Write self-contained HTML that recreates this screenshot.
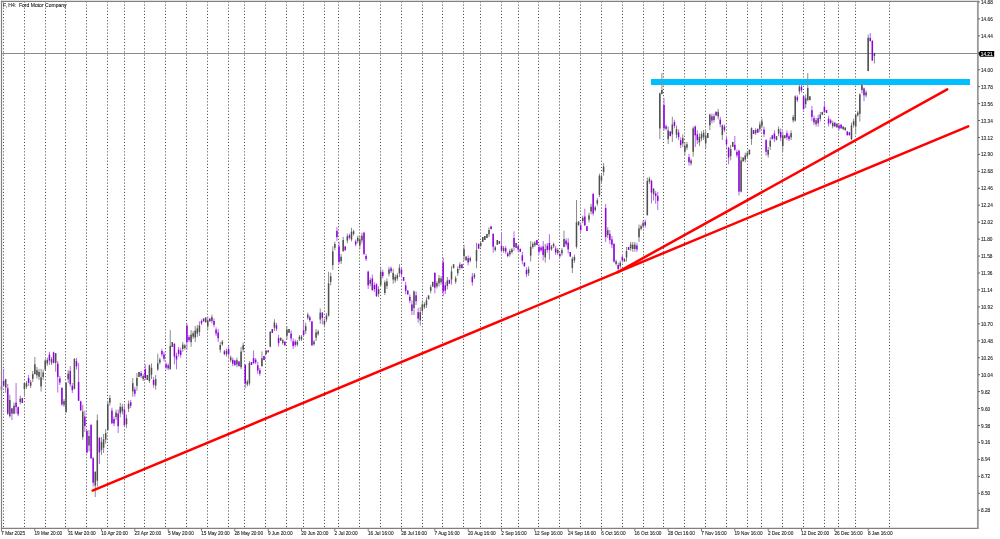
<!DOCTYPE html><html><head><meta charset="utf-8"><style>html,body{margin:0;padding:0;background:#fff;width:1000px;height:539px;overflow:hidden}svg{display:block;will-change:transform}text{font-family:"Liberation Sans",sans-serif}</style></head><body>
<svg width="1000" height="539" viewBox="0 0 1000 539">
<rect x="0" y="0" width="1000" height="539" fill="#ffffff"/>
<line x1="3.5" y1="1.4" x2="3.5" y2="528" stroke="#505050" stroke-width="1" stroke-dasharray="1.1 2.023"/>
<line x1="24.5" y1="1.4" x2="24.5" y2="528" stroke="#505050" stroke-width="1" stroke-dasharray="1.1 2.023"/>
<line x1="45.5" y1="1.4" x2="45.5" y2="528" stroke="#505050" stroke-width="1" stroke-dasharray="1.1 2.023"/>
<line x1="65.5" y1="1.4" x2="65.5" y2="528" stroke="#505050" stroke-width="1" stroke-dasharray="1.1 2.023"/>
<line x1="86.5" y1="1.4" x2="86.5" y2="528" stroke="#505050" stroke-width="1" stroke-dasharray="1.1 2.023"/>
<line x1="107.5" y1="1.4" x2="107.5" y2="528" stroke="#505050" stroke-width="1" stroke-dasharray="1.1 2.023"/>
<line x1="124.5" y1="1.4" x2="124.5" y2="528" stroke="#505050" stroke-width="1" stroke-dasharray="1.1 2.023"/>
<line x1="144.5" y1="1.4" x2="144.5" y2="528" stroke="#505050" stroke-width="1" stroke-dasharray="1.1 2.023"/>
<line x1="165.5" y1="1.4" x2="165.5" y2="528" stroke="#505050" stroke-width="1" stroke-dasharray="1.1 2.023"/>
<line x1="186.5" y1="1.4" x2="186.5" y2="528" stroke="#505050" stroke-width="1" stroke-dasharray="1.1 2.023"/>
<line x1="207.5" y1="1.4" x2="207.5" y2="528" stroke="#505050" stroke-width="1" stroke-dasharray="1.1 2.023"/>
<line x1="228.5" y1="1.4" x2="228.5" y2="528" stroke="#505050" stroke-width="1" stroke-dasharray="1.1 2.023"/>
<line x1="244.5" y1="1.4" x2="244.5" y2="528" stroke="#505050" stroke-width="1" stroke-dasharray="1.1 2.023"/>
<line x1="265.5" y1="1.4" x2="265.5" y2="528" stroke="#505050" stroke-width="1" stroke-dasharray="1.1 2.023"/>
<line x1="286.5" y1="1.4" x2="286.5" y2="528" stroke="#505050" stroke-width="1" stroke-dasharray="1.1 2.023"/>
<line x1="303.5" y1="1.4" x2="303.5" y2="528" stroke="#505050" stroke-width="1" stroke-dasharray="1.1 2.023"/>
<line x1="324.5" y1="1.4" x2="324.5" y2="528" stroke="#505050" stroke-width="1" stroke-dasharray="1.1 2.023"/>
<line x1="338.5" y1="1.4" x2="338.5" y2="528" stroke="#505050" stroke-width="1" stroke-dasharray="1.1 2.023"/>
<line x1="359.5" y1="1.4" x2="359.5" y2="528" stroke="#505050" stroke-width="1" stroke-dasharray="1.1 2.023"/>
<line x1="380.5" y1="1.4" x2="380.5" y2="528" stroke="#505050" stroke-width="1" stroke-dasharray="1.1 2.023"/>
<line x1="401.5" y1="1.4" x2="401.5" y2="528" stroke="#505050" stroke-width="1" stroke-dasharray="1.1 2.023"/>
<line x1="422.5" y1="1.4" x2="422.5" y2="528" stroke="#505050" stroke-width="1" stroke-dasharray="1.1 2.023"/>
<line x1="442.5" y1="1.4" x2="442.5" y2="528" stroke="#505050" stroke-width="1" stroke-dasharray="1.1 2.023"/>
<line x1="463.5" y1="1.4" x2="463.5" y2="528" stroke="#505050" stroke-width="1" stroke-dasharray="1.1 2.023"/>
<line x1="480.5" y1="1.4" x2="480.5" y2="528" stroke="#505050" stroke-width="1" stroke-dasharray="1.1 2.023"/>
<line x1="501.5" y1="1.4" x2="501.5" y2="528" stroke="#505050" stroke-width="1" stroke-dasharray="1.1 2.023"/>
<line x1="518.5" y1="1.4" x2="518.5" y2="528" stroke="#505050" stroke-width="1" stroke-dasharray="1.1 2.023"/>
<line x1="538.5" y1="1.4" x2="538.5" y2="528" stroke="#505050" stroke-width="1" stroke-dasharray="1.1 2.023"/>
<line x1="559.5" y1="1.4" x2="559.5" y2="528" stroke="#505050" stroke-width="1" stroke-dasharray="1.1 2.023"/>
<line x1="580.5" y1="1.4" x2="580.5" y2="528" stroke="#505050" stroke-width="1" stroke-dasharray="1.1 2.023"/>
<line x1="601.5" y1="1.4" x2="601.5" y2="528" stroke="#505050" stroke-width="1" stroke-dasharray="1.1 2.023"/>
<line x1="622.5" y1="1.4" x2="622.5" y2="528" stroke="#505050" stroke-width="1" stroke-dasharray="1.1 2.023"/>
<line x1="643.5" y1="1.4" x2="643.5" y2="528" stroke="#505050" stroke-width="1" stroke-dasharray="1.1 2.023"/>
<line x1="663.5" y1="1.4" x2="663.5" y2="528" stroke="#505050" stroke-width="1" stroke-dasharray="1.1 2.023"/>
<line x1="684.5" y1="1.4" x2="684.5" y2="528" stroke="#505050" stroke-width="1" stroke-dasharray="1.1 2.023"/>
<line x1="705.5" y1="1.4" x2="705.5" y2="528" stroke="#505050" stroke-width="1" stroke-dasharray="1.1 2.023"/>
<line x1="726.5" y1="1.4" x2="726.5" y2="528" stroke="#505050" stroke-width="1" stroke-dasharray="1.1 2.023"/>
<line x1="747.5" y1="1.4" x2="747.5" y2="528" stroke="#505050" stroke-width="1" stroke-dasharray="1.1 2.023"/>
<line x1="761.5" y1="1.4" x2="761.5" y2="528" stroke="#505050" stroke-width="1" stroke-dasharray="1.1 2.023"/>
<line x1="782.5" y1="1.4" x2="782.5" y2="528" stroke="#505050" stroke-width="1" stroke-dasharray="1.1 2.023"/>
<line x1="803.5" y1="1.4" x2="803.5" y2="528" stroke="#505050" stroke-width="1" stroke-dasharray="1.1 2.023"/>
<line x1="824.5" y1="1.4" x2="824.5" y2="528" stroke="#505050" stroke-width="1" stroke-dasharray="1.1 2.023"/>
<line x1="838.5" y1="1.4" x2="838.5" y2="528" stroke="#505050" stroke-width="1" stroke-dasharray="1.1 2.023"/>
<line x1="855.5" y1="1.4" x2="855.5" y2="528" stroke="#505050" stroke-width="1" stroke-dasharray="1.1 2.023"/>
<line x1="889.5" y1="1.4" x2="889.5" y2="528" stroke="#505050" stroke-width="1" stroke-dasharray="1.1 2.023"/>
<line x1="1" y1="53.5" x2="977.5" y2="53.5" stroke="#8a8a8a" stroke-width="1"/>
<rect x="651" y="79" width="319" height="6" fill="#00bfff"/>
<rect x="1.00" y="384.0" width="1" height="8.0" fill="#8c8c8c"/>
<rect x="0.75" y="386.2" width="1.5" height="3.5" fill="#4e4e4e"/>
<rect x="3.08" y="368.8" width="1" height="17.6" fill="#b768ee"/>
<rect x="2.83" y="381.0" width="1.5" height="4.7" fill="#9000dc"/>
<rect x="5.17" y="378.8" width="1" height="14.1" fill="#8c8c8c"/>
<rect x="4.92" y="379.2" width="1.5" height="8.5" fill="#4e4e4e"/>
<rect x="7.25" y="384.0" width="1" height="31.0" fill="#b768ee"/>
<rect x="7.00" y="388.3" width="1.5" height="25.3" fill="#9000dc"/>
<rect x="9.33" y="394.8" width="1" height="22.7" fill="#8c8c8c"/>
<rect x="9.08" y="400.0" width="1.5" height="16.2" fill="#4e4e4e"/>
<rect x="11.42" y="407.8" width="1" height="12.2" fill="#b768ee"/>
<rect x="11.17" y="408.4" width="1.5" height="5.2" fill="#9000dc"/>
<rect x="13.50" y="402.6" width="1" height="11.7" fill="#8c8c8c"/>
<rect x="13.25" y="405.8" width="1.5" height="7.8" fill="#4e4e4e"/>
<rect x="15.58" y="383.0" width="1" height="30.6" fill="#b768ee"/>
<rect x="15.33" y="402.6" width="1.5" height="4.5" fill="#9000dc"/>
<rect x="17.67" y="406.5" width="1" height="9.7" fill="#b768ee"/>
<rect x="17.42" y="407.1" width="1.5" height="7.2" fill="#9000dc"/>
<rect x="19.75" y="395.5" width="1" height="9.0" fill="#8c8c8c"/>
<rect x="19.50" y="398.7" width="1.5" height="3.3" fill="#4e4e4e"/>
<rect x="21.83" y="398.0" width="1" height="5.0" fill="#b768ee"/>
<rect x="21.58" y="398.0" width="1.5" height="5.0" fill="#9000dc"/>
<rect x="23.92" y="382.5" width="1" height="14.3" fill="#8c8c8c"/>
<rect x="23.67" y="383.1" width="1.5" height="5.9" fill="#4e4e4e"/>
<rect x="26.00" y="381.0" width="1" height="8.0" fill="#8c8c8c"/>
<rect x="25.75" y="383.2" width="1.5" height="3.5" fill="#4e4e4e"/>
<rect x="28.08" y="375.0" width="1" height="11.0" fill="#b768ee"/>
<rect x="27.83" y="378.1" width="1.5" height="4.8" fill="#9000dc"/>
<rect x="30.17" y="380.0" width="1" height="8.0" fill="#8c8c8c"/>
<rect x="29.92" y="382.2" width="1.5" height="3.5" fill="#4e4e4e"/>
<rect x="32.25" y="371.0" width="1" height="11.0" fill="#8c8c8c"/>
<rect x="32.00" y="374.1" width="1.5" height="4.8" fill="#4e4e4e"/>
<rect x="34.33" y="357.0" width="1" height="17.7" fill="#8c8c8c"/>
<rect x="34.08" y="364.3" width="1.5" height="9.7" fill="#4e4e4e"/>
<rect x="36.42" y="367.0" width="1" height="11.6" fill="#8c8c8c"/>
<rect x="36.17" y="370.2" width="1.5" height="5.1" fill="#4e4e4e"/>
<rect x="38.50" y="368.8" width="1" height="11.2" fill="#8c8c8c"/>
<rect x="38.25" y="371.9" width="1.5" height="4.9" fill="#4e4e4e"/>
<rect x="40.58" y="368.8" width="1" height="22.8" fill="#8c8c8c"/>
<rect x="40.33" y="377.3" width="1.5" height="9.1" fill="#4e4e4e"/>
<rect x="42.67" y="369.5" width="1" height="10.5" fill="#8c8c8c"/>
<rect x="42.42" y="372.4" width="1.5" height="4.6" fill="#4e4e4e"/>
<rect x="44.75" y="359.0" width="1" height="11.0" fill="#8c8c8c"/>
<rect x="44.50" y="360.6" width="1.5" height="8.9" fill="#4e4e4e"/>
<rect x="46.83" y="357.6" width="1" height="8.2" fill="#8c8c8c"/>
<rect x="46.58" y="359.9" width="1.5" height="3.6" fill="#4e4e4e"/>
<rect x="48.92" y="351.7" width="1" height="13.3" fill="#b768ee"/>
<rect x="48.67" y="354.6" width="1.5" height="6.0" fill="#9000dc"/>
<rect x="51.00" y="357.0" width="1" height="8.0" fill="#8c8c8c"/>
<rect x="50.75" y="359.2" width="1.5" height="3.5" fill="#4e4e4e"/>
<rect x="53.08" y="351.7" width="1" height="11.8" fill="#b768ee"/>
<rect x="52.83" y="352.4" width="1.5" height="10.4" fill="#9000dc"/>
<rect x="55.17" y="353.0" width="1" height="18.7" fill="#8c8c8c"/>
<rect x="54.92" y="353.2" width="1.5" height="9.6" fill="#4e4e4e"/>
<rect x="57.25" y="361.0" width="1" height="31.5" fill="#b768ee"/>
<rect x="57.00" y="363.6" width="1.5" height="13.3" fill="#9000dc"/>
<rect x="59.33" y="376.0" width="1" height="9.0" fill="#b768ee"/>
<rect x="59.08" y="378.5" width="1.5" height="4.0" fill="#9000dc"/>
<rect x="61.42" y="387.0" width="1" height="19.0" fill="#b768ee"/>
<rect x="61.17" y="388.0" width="1.5" height="16.4" fill="#9000dc"/>
<rect x="63.50" y="399.0" width="1" height="8.0" fill="#8c8c8c"/>
<rect x="63.25" y="401.2" width="1.5" height="3.5" fill="#4e4e4e"/>
<rect x="65.58" y="382.0" width="1" height="31.0" fill="#8c8c8c"/>
<rect x="65.33" y="382.9" width="1.5" height="28.9" fill="#4e4e4e"/>
<rect x="67.67" y="370.0" width="1" height="13.0" fill="#8c8c8c"/>
<rect x="67.42" y="373.6" width="1.5" height="5.7" fill="#4e4e4e"/>
<rect x="69.75" y="366.0" width="1" height="20.5" fill="#b768ee"/>
<rect x="69.50" y="371.0" width="1.5" height="13.3" fill="#9000dc"/>
<rect x="71.83" y="383.0" width="1" height="10.0" fill="#b768ee"/>
<rect x="71.58" y="385.8" width="1.5" height="4.4" fill="#9000dc"/>
<rect x="73.92" y="358.0" width="1" height="31.5" fill="#8c8c8c"/>
<rect x="73.67" y="359.0" width="1.5" height="29.8" fill="#4e4e4e"/>
<rect x="76.00" y="358.0" width="1" height="11.5" fill="#b768ee"/>
<rect x="75.75" y="361.2" width="1.5" height="5.1" fill="#9000dc"/>
<rect x="78.08" y="363.0" width="1" height="38.0" fill="#b768ee"/>
<rect x="77.83" y="382.0" width="1.5" height="18.7" fill="#9000dc"/>
<rect x="80.17" y="400.7" width="1" height="10.3" fill="#b768ee"/>
<rect x="79.92" y="401.4" width="1.5" height="8.9" fill="#9000dc"/>
<rect x="82.25" y="404.7" width="1" height="35.1" fill="#8c8c8c"/>
<rect x="82.00" y="411.6" width="1.5" height="25.4" fill="#4e4e4e"/>
<rect x="84.33" y="410.6" width="1" height="21.4" fill="#b768ee"/>
<rect x="84.08" y="416.6" width="1.5" height="9.4" fill="#9000dc"/>
<rect x="86.42" y="430.0" width="1" height="23.4" fill="#b768ee"/>
<rect x="86.17" y="431.0" width="1.5" height="21.5" fill="#9000dc"/>
<rect x="88.50" y="430.0" width="1" height="21.5" fill="#8c8c8c"/>
<rect x="88.25" y="436.0" width="1.5" height="9.5" fill="#4e4e4e"/>
<rect x="90.58" y="424.0" width="1" height="35.0" fill="#b768ee"/>
<rect x="90.33" y="425.0" width="1.5" height="33.3" fill="#9000dc"/>
<rect x="92.67" y="457.0" width="1" height="29.6" fill="#b768ee"/>
<rect x="92.42" y="458.3" width="1.5" height="24.4" fill="#9000dc"/>
<rect x="94.75" y="471.0" width="1" height="26.0" fill="#8c8c8c"/>
<rect x="94.50" y="472.0" width="1.5" height="13.6" fill="#4e4e4e"/>
<rect x="96.83" y="414.5" width="1" height="72.1" fill="#8c8c8c"/>
<rect x="96.58" y="420.3" width="1.5" height="60.4" fill="#4e4e4e"/>
<rect x="98.92" y="437.0" width="1" height="27.0" fill="#b768ee"/>
<rect x="98.67" y="437.9" width="1.5" height="14.6" fill="#9000dc"/>
<rect x="101.00" y="437.0" width="1" height="18.0" fill="#8c8c8c"/>
<rect x="100.75" y="442.0" width="1.5" height="7.9" fill="#4e4e4e"/>
<rect x="103.08" y="434.0" width="1" height="19.0" fill="#8c8c8c"/>
<rect x="102.83" y="439.3" width="1.5" height="8.4" fill="#4e4e4e"/>
<rect x="105.17" y="429.0" width="1" height="14.7" fill="#8c8c8c"/>
<rect x="104.92" y="433.1" width="1.5" height="6.5" fill="#4e4e4e"/>
<rect x="107.25" y="400.8" width="1" height="30.2" fill="#8c8c8c"/>
<rect x="107.00" y="403.8" width="1.5" height="26.2" fill="#4e4e4e"/>
<rect x="109.33" y="395.0" width="1" height="10.7" fill="#8c8c8c"/>
<rect x="109.08" y="398.0" width="1.5" height="4.7" fill="#4e4e4e"/>
<rect x="111.42" y="407.7" width="1" height="16.3" fill="#b768ee"/>
<rect x="111.17" y="410.6" width="1.5" height="12.6" fill="#9000dc"/>
<rect x="113.50" y="416.4" width="1" height="9.8" fill="#b768ee"/>
<rect x="113.25" y="419.1" width="1.5" height="4.3" fill="#9000dc"/>
<rect x="115.58" y="409.6" width="1" height="10.4" fill="#8c8c8c"/>
<rect x="115.33" y="412.5" width="1.5" height="4.6" fill="#4e4e4e"/>
<rect x="117.67" y="409.6" width="1" height="23.4" fill="#b768ee"/>
<rect x="117.42" y="413.5" width="1.5" height="12.7" fill="#9000dc"/>
<rect x="119.75" y="402.8" width="1" height="14.6" fill="#8c8c8c"/>
<rect x="119.50" y="406.9" width="1.5" height="6.4" fill="#4e4e4e"/>
<rect x="121.83" y="403.8" width="1" height="10.7" fill="#8c8c8c"/>
<rect x="121.58" y="406.8" width="1.5" height="4.7" fill="#4e4e4e"/>
<rect x="123.92" y="405.7" width="1" height="21.3" fill="#b768ee"/>
<rect x="123.67" y="409.6" width="1.5" height="15.6" fill="#9000dc"/>
<rect x="126.00" y="414.5" width="1" height="13.5" fill="#8c8c8c"/>
<rect x="125.75" y="418.3" width="1.5" height="5.9" fill="#4e4e4e"/>
<rect x="128.08" y="400.5" width="1" height="11.5" fill="#8c8c8c"/>
<rect x="127.83" y="403.7" width="1.5" height="5.1" fill="#4e4e4e"/>
<rect x="130.17" y="400.0" width="1" height="8.0" fill="#b768ee"/>
<rect x="129.92" y="402.2" width="1.5" height="3.5" fill="#9000dc"/>
<rect x="132.25" y="378.0" width="1" height="18.6" fill="#8c8c8c"/>
<rect x="132.00" y="383.2" width="1.5" height="8.2" fill="#4e4e4e"/>
<rect x="134.33" y="386.8" width="1" height="9.8" fill="#b768ee"/>
<rect x="134.08" y="389.5" width="1.5" height="4.3" fill="#9000dc"/>
<rect x="136.42" y="373.0" width="1" height="17.7" fill="#8c8c8c"/>
<rect x="136.17" y="378.0" width="1.5" height="7.8" fill="#4e4e4e"/>
<rect x="138.50" y="372.0" width="1" height="5.0" fill="#8c8c8c"/>
<rect x="138.25" y="372.0" width="1.5" height="5.0" fill="#4e4e4e"/>
<rect x="140.58" y="371.0" width="1" height="7.0" fill="#b768ee"/>
<rect x="140.33" y="373.0" width="1.5" height="3.1" fill="#9000dc"/>
<rect x="142.67" y="374.0" width="1" height="7.0" fill="#8c8c8c"/>
<rect x="142.42" y="376.0" width="1.5" height="3.1" fill="#4e4e4e"/>
<rect x="144.75" y="364.4" width="1" height="15.6" fill="#b768ee"/>
<rect x="144.50" y="369.3" width="1.5" height="8.7" fill="#9000dc"/>
<rect x="146.83" y="375.0" width="1" height="5.0" fill="#8c8c8c"/>
<rect x="146.58" y="375.0" width="1.5" height="5.0" fill="#4e4e4e"/>
<rect x="148.92" y="364.4" width="1" height="18.6" fill="#8c8c8c"/>
<rect x="148.67" y="365.4" width="1.5" height="15.6" fill="#4e4e4e"/>
<rect x="151.00" y="363.4" width="1" height="15.6" fill="#8c8c8c"/>
<rect x="150.75" y="367.8" width="1.5" height="6.9" fill="#4e4e4e"/>
<rect x="153.08" y="377.0" width="1" height="10.8" fill="#b768ee"/>
<rect x="152.83" y="380.0" width="1.5" height="4.8" fill="#9000dc"/>
<rect x="155.17" y="375.0" width="1" height="14.7" fill="#8c8c8c"/>
<rect x="154.92" y="379.1" width="1.5" height="6.5" fill="#4e4e4e"/>
<rect x="157.25" y="353.7" width="1" height="17.3" fill="#8c8c8c"/>
<rect x="157.00" y="363.4" width="1.5" height="5.9" fill="#4e4e4e"/>
<rect x="159.33" y="357.6" width="1" height="6.8" fill="#8c8c8c"/>
<rect x="159.08" y="359.5" width="1.5" height="3.0" fill="#4e4e4e"/>
<rect x="161.42" y="348.8" width="1" height="7.8" fill="#b768ee"/>
<rect x="161.17" y="351.0" width="1.5" height="3.4" fill="#9000dc"/>
<rect x="163.50" y="351.8" width="1" height="9.7" fill="#b768ee"/>
<rect x="163.25" y="354.5" width="1.5" height="4.3" fill="#9000dc"/>
<rect x="165.58" y="362.5" width="1" height="6.8" fill="#b768ee"/>
<rect x="165.33" y="364.4" width="1.5" height="3.0" fill="#9000dc"/>
<rect x="167.67" y="363.4" width="1" height="6.9" fill="#b768ee"/>
<rect x="167.42" y="365.3" width="1.5" height="3.0" fill="#9000dc"/>
<rect x="169.75" y="330.0" width="1" height="39.3" fill="#8c8c8c"/>
<rect x="169.50" y="345.9" width="1.5" height="23.4" fill="#4e4e4e"/>
<rect x="171.83" y="342.0" width="1" height="5.0" fill="#8c8c8c"/>
<rect x="171.58" y="342.0" width="1.5" height="5.0" fill="#4e4e4e"/>
<rect x="173.92" y="343.0" width="1" height="21.4" fill="#b768ee"/>
<rect x="173.67" y="344.0" width="1.5" height="12.6" fill="#9000dc"/>
<rect x="176.00" y="352.7" width="1" height="16.6" fill="#b768ee"/>
<rect x="175.75" y="355.6" width="1.5" height="3.9" fill="#9000dc"/>
<rect x="178.08" y="347.0" width="1" height="9.6" fill="#b768ee"/>
<rect x="177.83" y="349.7" width="1.5" height="4.2" fill="#9000dc"/>
<rect x="180.17" y="347.9" width="1" height="9.7" fill="#b768ee"/>
<rect x="179.92" y="350.6" width="1.5" height="4.3" fill="#9000dc"/>
<rect x="182.25" y="342.0" width="1" height="9.8" fill="#8c8c8c"/>
<rect x="182.00" y="344.7" width="1.5" height="4.3" fill="#4e4e4e"/>
<rect x="184.33" y="343.8" width="1" height="5.9" fill="#8c8c8c"/>
<rect x="184.08" y="345.5" width="1.5" height="2.6" fill="#4e4e4e"/>
<rect x="186.42" y="323.5" width="1" height="26.3" fill="#b768ee"/>
<rect x="186.17" y="325.5" width="1.5" height="16.5" fill="#9000dc"/>
<rect x="188.50" y="335.0" width="1" height="7.0" fill="#b768ee"/>
<rect x="188.25" y="337.0" width="1.5" height="3.1" fill="#9000dc"/>
<rect x="190.58" y="330.0" width="1" height="16.8" fill="#8c8c8c"/>
<rect x="190.33" y="334.7" width="1.5" height="7.4" fill="#4e4e4e"/>
<rect x="192.67" y="331.0" width="1" height="8.0" fill="#8c8c8c"/>
<rect x="192.42" y="333.2" width="1.5" height="3.5" fill="#4e4e4e"/>
<rect x="194.75" y="326.0" width="1" height="16.0" fill="#8c8c8c"/>
<rect x="194.50" y="330.5" width="1.5" height="7.0" fill="#4e4e4e"/>
<rect x="196.83" y="325.0" width="1" height="12.0" fill="#8c8c8c"/>
<rect x="196.58" y="328.4" width="1.5" height="5.3" fill="#4e4e4e"/>
<rect x="198.92" y="321.4" width="1" height="14.6" fill="#8c8c8c"/>
<rect x="198.67" y="325.5" width="1.5" height="6.4" fill="#4e4e4e"/>
<rect x="201.00" y="319.5" width="1" height="5.5" fill="#b768ee"/>
<rect x="200.75" y="321.0" width="1.5" height="2.4" fill="#9000dc"/>
<rect x="203.08" y="318.5" width="1" height="2.9" fill="#b768ee"/>
<rect x="202.83" y="318.5" width="1.5" height="2.9" fill="#9000dc"/>
<rect x="205.17" y="317.5" width="1" height="4.9" fill="#8c8c8c"/>
<rect x="204.92" y="317.5" width="1.5" height="4.9" fill="#4e4e4e"/>
<rect x="207.25" y="316.6" width="1" height="13.4" fill="#8c8c8c"/>
<rect x="207.00" y="320.4" width="1.5" height="5.9" fill="#4e4e4e"/>
<rect x="209.33" y="318.5" width="1" height="2.9" fill="#b768ee"/>
<rect x="209.08" y="318.5" width="1.5" height="2.9" fill="#9000dc"/>
<rect x="211.42" y="314.6" width="1" height="8.8" fill="#8c8c8c"/>
<rect x="211.17" y="317.1" width="1.5" height="3.9" fill="#4e4e4e"/>
<rect x="213.50" y="318.5" width="1" height="8.8" fill="#b768ee"/>
<rect x="213.25" y="321.0" width="1.5" height="3.9" fill="#9000dc"/>
<rect x="215.58" y="327.3" width="1" height="8.7" fill="#b768ee"/>
<rect x="215.33" y="329.7" width="1.5" height="3.8" fill="#9000dc"/>
<rect x="217.67" y="329.0" width="1" height="13.0" fill="#b768ee"/>
<rect x="217.42" y="332.6" width="1.5" height="5.7" fill="#9000dc"/>
<rect x="219.75" y="342.0" width="1" height="10.6" fill="#8c8c8c"/>
<rect x="219.50" y="345.0" width="1.5" height="4.7" fill="#4e4e4e"/>
<rect x="221.83" y="340.0" width="1" height="5.8" fill="#8c8c8c"/>
<rect x="221.58" y="341.6" width="1.5" height="2.6" fill="#4e4e4e"/>
<rect x="223.92" y="349.7" width="1" height="5.8" fill="#b768ee"/>
<rect x="223.67" y="351.3" width="1.5" height="2.6" fill="#9000dc"/>
<rect x="226.00" y="348.7" width="1" height="7.8" fill="#8c8c8c"/>
<rect x="225.75" y="350.9" width="1.5" height="3.4" fill="#4e4e4e"/>
<rect x="228.08" y="345.8" width="1" height="11.7" fill="#b768ee"/>
<rect x="227.83" y="349.1" width="1.5" height="5.1" fill="#9000dc"/>
<rect x="230.17" y="355.5" width="1" height="6.8" fill="#8c8c8c"/>
<rect x="229.92" y="357.4" width="1.5" height="3.0" fill="#4e4e4e"/>
<rect x="232.25" y="357.5" width="1" height="8.7" fill="#b768ee"/>
<rect x="232.00" y="359.9" width="1.5" height="3.8" fill="#9000dc"/>
<rect x="234.33" y="360.4" width="1" height="4.9" fill="#b768ee"/>
<rect x="234.08" y="360.4" width="1.5" height="4.9" fill="#9000dc"/>
<rect x="236.42" y="357.5" width="1" height="9.7" fill="#8c8c8c"/>
<rect x="236.17" y="360.2" width="1.5" height="4.3" fill="#4e4e4e"/>
<rect x="238.50" y="361.4" width="1" height="4.8" fill="#b768ee"/>
<rect x="238.25" y="361.4" width="1.5" height="4.8" fill="#9000dc"/>
<rect x="240.58" y="346.8" width="1" height="22.4" fill="#8c8c8c"/>
<rect x="240.33" y="351.6" width="1.5" height="15.6" fill="#4e4e4e"/>
<rect x="242.67" y="342.6" width="1" height="9.7" fill="#8c8c8c"/>
<rect x="242.42" y="345.3" width="1.5" height="4.3" fill="#4e4e4e"/>
<rect x="244.75" y="364.0" width="1" height="24.4" fill="#b768ee"/>
<rect x="244.50" y="365.0" width="1.5" height="18.5" fill="#9000dc"/>
<rect x="246.83" y="379.6" width="1" height="6.8" fill="#8c8c8c"/>
<rect x="246.58" y="381.5" width="1.5" height="3.0" fill="#4e4e4e"/>
<rect x="248.92" y="361.0" width="1" height="24.5" fill="#8c8c8c"/>
<rect x="248.67" y="363.0" width="1.5" height="20.5" fill="#4e4e4e"/>
<rect x="251.00" y="362.0" width="1" height="3.0" fill="#b768ee"/>
<rect x="250.75" y="362.0" width="1.5" height="3.0" fill="#9000dc"/>
<rect x="253.08" y="350.4" width="1" height="13.6" fill="#b768ee"/>
<rect x="252.83" y="358.2" width="1.5" height="4.8" fill="#9000dc"/>
<rect x="255.17" y="358.0" width="1" height="6.0" fill="#b768ee"/>
<rect x="254.92" y="359.7" width="1.5" height="2.6" fill="#9000dc"/>
<rect x="257.25" y="362.0" width="1" height="11.8" fill="#b768ee"/>
<rect x="257.00" y="365.3" width="1.5" height="5.2" fill="#9000dc"/>
<rect x="259.33" y="368.0" width="1" height="7.7" fill="#b768ee"/>
<rect x="259.08" y="370.2" width="1.5" height="3.4" fill="#9000dc"/>
<rect x="261.42" y="351.4" width="1" height="15.6" fill="#8c8c8c"/>
<rect x="261.17" y="358.2" width="1.5" height="7.8" fill="#4e4e4e"/>
<rect x="263.50" y="356.0" width="1" height="4.0" fill="#b768ee"/>
<rect x="263.25" y="356.0" width="1.5" height="4.0" fill="#9000dc"/>
<rect x="265.58" y="350.4" width="1" height="3.9" fill="#8c8c8c"/>
<rect x="265.33" y="350.4" width="1.5" height="3.9" fill="#4e4e4e"/>
<rect x="267.67" y="350.4" width="1" height="1.9" fill="#b768ee"/>
<rect x="267.42" y="350.4" width="1.5" height="1.9" fill="#9000dc"/>
<rect x="269.75" y="331.0" width="1" height="16.5" fill="#8c8c8c"/>
<rect x="269.50" y="332.0" width="1.5" height="14.5" fill="#4e4e4e"/>
<rect x="271.83" y="329.0" width="1" height="3.9" fill="#b768ee"/>
<rect x="271.58" y="329.0" width="1.5" height="3.9" fill="#9000dc"/>
<rect x="273.92" y="319.2" width="1" height="11.8" fill="#8c8c8c"/>
<rect x="273.67" y="322.5" width="1.5" height="5.2" fill="#4e4e4e"/>
<rect x="276.00" y="323.0" width="1" height="8.0" fill="#b768ee"/>
<rect x="275.75" y="325.2" width="1.5" height="3.5" fill="#9000dc"/>
<rect x="278.08" y="334.8" width="1" height="11.7" fill="#b768ee"/>
<rect x="277.83" y="338.1" width="1.5" height="5.1" fill="#9000dc"/>
<rect x="280.17" y="337.7" width="1" height="3.0" fill="#8c8c8c"/>
<rect x="279.92" y="337.7" width="1.5" height="3.0" fill="#4e4e4e"/>
<rect x="282.25" y="338.7" width="1" height="5.8" fill="#8c8c8c"/>
<rect x="282.00" y="340.3" width="1.5" height="2.6" fill="#4e4e4e"/>
<rect x="284.33" y="341.6" width="1" height="3.9" fill="#b768ee"/>
<rect x="284.08" y="341.6" width="1.5" height="3.9" fill="#9000dc"/>
<rect x="286.42" y="326.0" width="1" height="13.7" fill="#8c8c8c"/>
<rect x="286.17" y="329.8" width="1.5" height="6.0" fill="#4e4e4e"/>
<rect x="288.50" y="329.0" width="1" height="3.9" fill="#8c8c8c"/>
<rect x="288.25" y="329.0" width="1.5" height="3.9" fill="#4e4e4e"/>
<rect x="290.58" y="330.4" width="1" height="11.1" fill="#b768ee"/>
<rect x="290.33" y="333.5" width="1.5" height="4.9" fill="#9000dc"/>
<rect x="292.67" y="338.3" width="1" height="10.7" fill="#b768ee"/>
<rect x="292.42" y="341.3" width="1.5" height="4.7" fill="#9000dc"/>
<rect x="294.75" y="339.5" width="1" height="7.5" fill="#b768ee"/>
<rect x="294.50" y="341.6" width="1.5" height="3.3" fill="#9000dc"/>
<rect x="296.83" y="340.0" width="1" height="6.4" fill="#8c8c8c"/>
<rect x="296.58" y="341.8" width="1.5" height="2.8" fill="#4e4e4e"/>
<rect x="298.92" y="335.0" width="1" height="6.0" fill="#8c8c8c"/>
<rect x="298.67" y="336.7" width="1.5" height="2.6" fill="#4e4e4e"/>
<rect x="301.00" y="335.0" width="1" height="6.0" fill="#8c8c8c"/>
<rect x="300.75" y="336.7" width="1.5" height="2.6" fill="#4e4e4e"/>
<rect x="303.08" y="321.0" width="1" height="14.7" fill="#b768ee"/>
<rect x="302.83" y="330.4" width="1.5" height="4.7" fill="#9000dc"/>
<rect x="305.17" y="323.0" width="1" height="11.0" fill="#8c8c8c"/>
<rect x="304.92" y="326.1" width="1.5" height="4.8" fill="#4e4e4e"/>
<rect x="307.25" y="312.6" width="1" height="7.1" fill="#8c8c8c"/>
<rect x="307.00" y="314.6" width="1.5" height="3.1" fill="#4e4e4e"/>
<rect x="309.33" y="315.5" width="1" height="6.5" fill="#b768ee"/>
<rect x="309.08" y="317.3" width="1.5" height="2.9" fill="#9000dc"/>
<rect x="311.42" y="321.0" width="1" height="25.0" fill="#b768ee"/>
<rect x="311.17" y="321.5" width="1.5" height="23.7" fill="#9000dc"/>
<rect x="313.50" y="340.0" width="1" height="5.8" fill="#8c8c8c"/>
<rect x="313.25" y="341.6" width="1.5" height="2.6" fill="#4e4e4e"/>
<rect x="315.58" y="329.0" width="1" height="12.0" fill="#8c8c8c"/>
<rect x="315.33" y="332.4" width="1.5" height="5.3" fill="#4e4e4e"/>
<rect x="317.67" y="329.8" width="1" height="5.9" fill="#8c8c8c"/>
<rect x="317.42" y="331.5" width="1.5" height="2.6" fill="#4e4e4e"/>
<rect x="319.75" y="308.4" width="1" height="15.4" fill="#8c8c8c"/>
<rect x="319.50" y="312.7" width="1.5" height="6.8" fill="#4e4e4e"/>
<rect x="321.83" y="312.0" width="1" height="12.4" fill="#b768ee"/>
<rect x="321.58" y="312.6" width="1.5" height="5.3" fill="#9000dc"/>
<rect x="323.92" y="318.5" width="1" height="8.3" fill="#8c8c8c"/>
<rect x="323.67" y="320.8" width="1.5" height="3.7" fill="#4e4e4e"/>
<rect x="326.00" y="313.0" width="1" height="9.0" fill="#8c8c8c"/>
<rect x="325.75" y="315.5" width="1.5" height="4.0" fill="#4e4e4e"/>
<rect x="328.08" y="271.8" width="1" height="44.8" fill="#8c8c8c"/>
<rect x="327.83" y="283.4" width="1.5" height="32.2" fill="#4e4e4e"/>
<rect x="330.17" y="272.7" width="1" height="12.7" fill="#8c8c8c"/>
<rect x="329.92" y="276.3" width="1.5" height="5.6" fill="#4e4e4e"/>
<rect x="332.25" y="246.4" width="1" height="23.4" fill="#8c8c8c"/>
<rect x="332.00" y="251.3" width="1.5" height="13.7" fill="#4e4e4e"/>
<rect x="334.33" y="241.6" width="1" height="8.7" fill="#8c8c8c"/>
<rect x="334.08" y="244.0" width="1.5" height="3.8" fill="#4e4e4e"/>
<rect x="336.42" y="227.0" width="1" height="14.0" fill="#b768ee"/>
<rect x="336.17" y="230.9" width="1.5" height="6.2" fill="#9000dc"/>
<rect x="338.50" y="241.6" width="1" height="22.4" fill="#b768ee"/>
<rect x="338.25" y="246.4" width="1.5" height="15.6" fill="#9000dc"/>
<rect x="340.58" y="254.0" width="1" height="10.0" fill="#8c8c8c"/>
<rect x="340.33" y="256.8" width="1.5" height="4.4" fill="#4e4e4e"/>
<rect x="342.67" y="236.7" width="1" height="15.3" fill="#8c8c8c"/>
<rect x="342.42" y="240.0" width="1.5" height="11.0" fill="#4e4e4e"/>
<rect x="344.75" y="246.4" width="1" height="3.9" fill="#b768ee"/>
<rect x="344.50" y="246.4" width="1.5" height="3.9" fill="#9000dc"/>
<rect x="346.83" y="233.6" width="1" height="9.8" fill="#8c8c8c"/>
<rect x="346.58" y="236.3" width="1.5" height="4.3" fill="#4e4e4e"/>
<rect x="348.92" y="233.7" width="1" height="5.8" fill="#b768ee"/>
<rect x="348.67" y="235.3" width="1.5" height="2.6" fill="#9000dc"/>
<rect x="351.00" y="227.8" width="1" height="13.6" fill="#8c8c8c"/>
<rect x="350.75" y="231.7" width="1.5" height="7.8" fill="#4e4e4e"/>
<rect x="353.08" y="229.7" width="1" height="5.9" fill="#8c8c8c"/>
<rect x="352.83" y="231.4" width="1.5" height="2.6" fill="#4e4e4e"/>
<rect x="355.17" y="239.5" width="1" height="6.8" fill="#b768ee"/>
<rect x="354.92" y="241.4" width="1.5" height="3.0" fill="#9000dc"/>
<rect x="357.25" y="235.6" width="1" height="7.8" fill="#8c8c8c"/>
<rect x="357.00" y="237.8" width="1.5" height="3.4" fill="#4e4e4e"/>
<rect x="359.33" y="235.6" width="1" height="13.6" fill="#8c8c8c"/>
<rect x="359.08" y="239.4" width="1.5" height="6.0" fill="#4e4e4e"/>
<rect x="361.42" y="232.7" width="1" height="10.7" fill="#8c8c8c"/>
<rect x="361.17" y="235.7" width="1.5" height="4.7" fill="#4e4e4e"/>
<rect x="363.50" y="231.7" width="1" height="23.3" fill="#b768ee"/>
<rect x="363.25" y="232.7" width="1.5" height="21.3" fill="#9000dc"/>
<rect x="365.58" y="254.0" width="1" height="7.0" fill="#b768ee"/>
<rect x="365.33" y="256.0" width="1.5" height="3.1" fill="#9000dc"/>
<rect x="367.67" y="270.6" width="1" height="18.4" fill="#b768ee"/>
<rect x="367.42" y="271.6" width="1.5" height="13.7" fill="#9000dc"/>
<rect x="369.75" y="277.5" width="1" height="8.7" fill="#8c8c8c"/>
<rect x="369.50" y="279.9" width="1.5" height="3.8" fill="#4e4e4e"/>
<rect x="371.83" y="274.5" width="1" height="16.5" fill="#b768ee"/>
<rect x="371.58" y="278.4" width="1.5" height="11.6" fill="#9000dc"/>
<rect x="373.92" y="282.3" width="1" height="9.7" fill="#b768ee"/>
<rect x="373.67" y="285.0" width="1.5" height="4.3" fill="#9000dc"/>
<rect x="376.00" y="283.3" width="1" height="13.7" fill="#b768ee"/>
<rect x="375.75" y="284.3" width="1.5" height="11.7" fill="#9000dc"/>
<rect x="378.08" y="286.2" width="1" height="10.8" fill="#8c8c8c"/>
<rect x="377.83" y="289.2" width="1.5" height="4.8" fill="#4e4e4e"/>
<rect x="380.17" y="266.8" width="1" height="19.4" fill="#8c8c8c"/>
<rect x="379.92" y="271.6" width="1.5" height="13.7" fill="#4e4e4e"/>
<rect x="382.25" y="269.7" width="1" height="8.7" fill="#b768ee"/>
<rect x="382.00" y="272.1" width="1.5" height="3.8" fill="#9000dc"/>
<rect x="384.33" y="280.4" width="1" height="14.6" fill="#8c8c8c"/>
<rect x="384.08" y="282.3" width="1.5" height="10.7" fill="#4e4e4e"/>
<rect x="386.42" y="278.4" width="1" height="10.6" fill="#8c8c8c"/>
<rect x="386.17" y="281.4" width="1.5" height="4.7" fill="#4e4e4e"/>
<rect x="388.50" y="266.8" width="1" height="9.7" fill="#8c8c8c"/>
<rect x="388.25" y="269.5" width="1.5" height="4.3" fill="#4e4e4e"/>
<rect x="390.58" y="266.5" width="1" height="6.5" fill="#b768ee"/>
<rect x="390.33" y="268.3" width="1.5" height="2.9" fill="#9000dc"/>
<rect x="392.67" y="268.7" width="1" height="15.0" fill="#8c8c8c"/>
<rect x="392.42" y="272.9" width="1.5" height="6.6" fill="#4e4e4e"/>
<rect x="394.75" y="274.5" width="1" height="8.2" fill="#8c8c8c"/>
<rect x="394.50" y="276.8" width="1.5" height="3.6" fill="#4e4e4e"/>
<rect x="396.83" y="273.0" width="1" height="7.8" fill="#8c8c8c"/>
<rect x="396.58" y="275.2" width="1.5" height="3.4" fill="#4e4e4e"/>
<rect x="398.92" y="264.2" width="1" height="12.8" fill="#8c8c8c"/>
<rect x="398.67" y="267.8" width="1.5" height="5.6" fill="#4e4e4e"/>
<rect x="401.00" y="267.0" width="1" height="10.0" fill="#b768ee"/>
<rect x="400.75" y="269.8" width="1.5" height="4.4" fill="#9000dc"/>
<rect x="403.08" y="277.0" width="1" height="3.8" fill="#b768ee"/>
<rect x="402.83" y="277.0" width="1.5" height="3.8" fill="#9000dc"/>
<rect x="405.17" y="281.8" width="1" height="12.6" fill="#b768ee"/>
<rect x="404.92" y="285.3" width="1.5" height="5.5" fill="#9000dc"/>
<rect x="407.25" y="290.5" width="1" height="3.9" fill="#b768ee"/>
<rect x="407.00" y="290.5" width="1.5" height="3.9" fill="#9000dc"/>
<rect x="409.33" y="294.4" width="1" height="8.8" fill="#b768ee"/>
<rect x="409.08" y="296.9" width="1.5" height="3.9" fill="#9000dc"/>
<rect x="411.42" y="300.3" width="1" height="14.7" fill="#b768ee"/>
<rect x="411.17" y="304.4" width="1.5" height="6.5" fill="#9000dc"/>
<rect x="413.50" y="290.5" width="1" height="24.5" fill="#8c8c8c"/>
<rect x="413.25" y="291.5" width="1.5" height="16.5" fill="#4e4e4e"/>
<rect x="415.58" y="291.5" width="1" height="13.5" fill="#b768ee"/>
<rect x="415.33" y="295.3" width="1.5" height="5.9" fill="#9000dc"/>
<rect x="417.67" y="308.0" width="1" height="14.7" fill="#b768ee"/>
<rect x="417.42" y="312.1" width="1.5" height="6.5" fill="#9000dc"/>
<rect x="419.75" y="307.0" width="1" height="18.6" fill="#8c8c8c"/>
<rect x="419.50" y="312.2" width="1.5" height="8.2" fill="#4e4e4e"/>
<rect x="421.83" y="300.3" width="1" height="14.7" fill="#8c8c8c"/>
<rect x="421.58" y="304.4" width="1.5" height="6.5" fill="#4e4e4e"/>
<rect x="423.92" y="302.2" width="1" height="6.8" fill="#8c8c8c"/>
<rect x="423.67" y="304.1" width="1.5" height="3.0" fill="#4e4e4e"/>
<rect x="426.00" y="297.3" width="1" height="10.7" fill="#8c8c8c"/>
<rect x="425.75" y="300.3" width="1.5" height="4.7" fill="#4e4e4e"/>
<rect x="428.08" y="295.4" width="1" height="3.9" fill="#8c8c8c"/>
<rect x="427.83" y="295.4" width="1.5" height="3.9" fill="#4e4e4e"/>
<rect x="430.17" y="284.7" width="1" height="8.7" fill="#8c8c8c"/>
<rect x="429.92" y="287.1" width="1.5" height="3.8" fill="#4e4e4e"/>
<rect x="432.25" y="281.8" width="1" height="4.8" fill="#8c8c8c"/>
<rect x="432.00" y="281.8" width="1.5" height="4.8" fill="#4e4e4e"/>
<rect x="434.33" y="272.0" width="1" height="21.4" fill="#b768ee"/>
<rect x="434.08" y="273.0" width="1.5" height="14.6" fill="#9000dc"/>
<rect x="436.42" y="280.8" width="1" height="7.8" fill="#8c8c8c"/>
<rect x="436.17" y="283.0" width="1.5" height="3.4" fill="#4e4e4e"/>
<rect x="438.50" y="275.0" width="1" height="11.6" fill="#8c8c8c"/>
<rect x="438.25" y="278.2" width="1.5" height="5.1" fill="#4e4e4e"/>
<rect x="440.58" y="276.0" width="1" height="8.7" fill="#8c8c8c"/>
<rect x="440.33" y="278.4" width="1.5" height="3.8" fill="#4e4e4e"/>
<rect x="442.67" y="257.4" width="1" height="39.0" fill="#b768ee"/>
<rect x="442.42" y="262.3" width="1.5" height="29.2" fill="#9000dc"/>
<rect x="444.75" y="282.0" width="1" height="12.0" fill="#b768ee"/>
<rect x="444.50" y="285.4" width="1.5" height="5.3" fill="#9000dc"/>
<rect x="446.83" y="277.0" width="1" height="12.5" fill="#8c8c8c"/>
<rect x="446.58" y="280.5" width="1.5" height="5.5" fill="#4e4e4e"/>
<rect x="448.92" y="279.8" width="1" height="3.9" fill="#b768ee"/>
<rect x="448.67" y="279.8" width="1.5" height="3.9" fill="#9000dc"/>
<rect x="451.00" y="266.2" width="1" height="18.5" fill="#8c8c8c"/>
<rect x="450.75" y="271.4" width="1.5" height="8.1" fill="#4e4e4e"/>
<rect x="453.08" y="264.3" width="1" height="3.9" fill="#8c8c8c"/>
<rect x="452.83" y="264.3" width="1.5" height="3.9" fill="#4e4e4e"/>
<rect x="455.17" y="276.0" width="1" height="7.8" fill="#8c8c8c"/>
<rect x="454.92" y="278.2" width="1.5" height="3.4" fill="#4e4e4e"/>
<rect x="457.25" y="266.2" width="1" height="9.8" fill="#8c8c8c"/>
<rect x="457.00" y="268.9" width="1.5" height="4.3" fill="#4e4e4e"/>
<rect x="459.33" y="262.3" width="1" height="7.8" fill="#8c8c8c"/>
<rect x="459.08" y="264.5" width="1.5" height="3.4" fill="#4e4e4e"/>
<rect x="461.42" y="264.3" width="1" height="3.9" fill="#b768ee"/>
<rect x="461.17" y="264.3" width="1.5" height="3.9" fill="#9000dc"/>
<rect x="463.50" y="244.8" width="1" height="15.6" fill="#8c8c8c"/>
<rect x="463.25" y="249.2" width="1.5" height="6.9" fill="#4e4e4e"/>
<rect x="465.58" y="256.5" width="1" height="3.9" fill="#8c8c8c"/>
<rect x="465.33" y="256.5" width="1.5" height="3.9" fill="#4e4e4e"/>
<rect x="467.67" y="255.5" width="1" height="9.8" fill="#b768ee"/>
<rect x="467.42" y="258.2" width="1.5" height="4.3" fill="#9000dc"/>
<rect x="469.75" y="256.5" width="1" height="5.8" fill="#8c8c8c"/>
<rect x="469.50" y="258.1" width="1.5" height="2.6" fill="#4e4e4e"/>
<rect x="471.83" y="273.0" width="1" height="12.7" fill="#b768ee"/>
<rect x="471.58" y="276.6" width="1.5" height="5.6" fill="#9000dc"/>
<rect x="473.92" y="273.0" width="1" height="6.0" fill="#8c8c8c"/>
<rect x="473.67" y="274.7" width="1.5" height="2.6" fill="#4e4e4e"/>
<rect x="476.00" y="242.9" width="1" height="25.3" fill="#8c8c8c"/>
<rect x="475.75" y="250.0" width="1.5" height="11.1" fill="#4e4e4e"/>
<rect x="478.08" y="243.8" width="1" height="4.9" fill="#b768ee"/>
<rect x="477.83" y="243.8" width="1.5" height="4.9" fill="#9000dc"/>
<rect x="480.17" y="241.0" width="1" height="6.7" fill="#8c8c8c"/>
<rect x="479.92" y="242.9" width="1.5" height="2.9" fill="#4e4e4e"/>
<rect x="482.25" y="237.0" width="1" height="4.9" fill="#8c8c8c"/>
<rect x="482.00" y="237.0" width="1.5" height="4.9" fill="#4e4e4e"/>
<rect x="484.33" y="236.0" width="1" height="4.0" fill="#8c8c8c"/>
<rect x="484.08" y="236.0" width="1.5" height="4.0" fill="#4e4e4e"/>
<rect x="486.42" y="234.0" width="1" height="4.0" fill="#8c8c8c"/>
<rect x="486.17" y="234.0" width="1.5" height="4.0" fill="#4e4e4e"/>
<rect x="488.50" y="227.3" width="1" height="9.7" fill="#8c8c8c"/>
<rect x="488.25" y="230.0" width="1.5" height="4.3" fill="#4e4e4e"/>
<rect x="490.58" y="226.3" width="1" height="2.9" fill="#b768ee"/>
<rect x="490.33" y="226.3" width="1.5" height="2.9" fill="#9000dc"/>
<rect x="492.67" y="233.0" width="1" height="19.6" fill="#b768ee"/>
<rect x="492.42" y="234.0" width="1.5" height="12.8" fill="#9000dc"/>
<rect x="494.75" y="245.8" width="1" height="5.8" fill="#8c8c8c"/>
<rect x="494.50" y="247.4" width="1.5" height="2.6" fill="#4e4e4e"/>
<rect x="496.83" y="240.0" width="1" height="4.8" fill="#8c8c8c"/>
<rect x="496.58" y="240.0" width="1.5" height="4.8" fill="#4e4e4e"/>
<rect x="498.92" y="241.0" width="1" height="2.8" fill="#8c8c8c"/>
<rect x="498.67" y="241.0" width="1.5" height="2.8" fill="#4e4e4e"/>
<rect x="501.00" y="232.0" width="1" height="19.6" fill="#b768ee"/>
<rect x="500.75" y="245.8" width="1.5" height="4.9" fill="#9000dc"/>
<rect x="503.08" y="246.0" width="1" height="6.7" fill="#8c8c8c"/>
<rect x="502.83" y="247.9" width="1.5" height="2.9" fill="#4e4e4e"/>
<rect x="505.17" y="246.0" width="1" height="7.7" fill="#b768ee"/>
<rect x="504.92" y="248.2" width="1.5" height="3.4" fill="#9000dc"/>
<rect x="507.25" y="251.8" width="1" height="5.8" fill="#b768ee"/>
<rect x="507.00" y="253.4" width="1.5" height="2.6" fill="#9000dc"/>
<rect x="509.33" y="248.8" width="1" height="7.8" fill="#8c8c8c"/>
<rect x="509.08" y="251.0" width="1.5" height="3.4" fill="#4e4e4e"/>
<rect x="511.42" y="247.9" width="1" height="5.8" fill="#8c8c8c"/>
<rect x="511.17" y="249.5" width="1.5" height="2.6" fill="#4e4e4e"/>
<rect x="513.50" y="231.3" width="1" height="19.5" fill="#b768ee"/>
<rect x="513.25" y="238.0" width="1.5" height="9.0" fill="#9000dc"/>
<rect x="515.58" y="243.0" width="1" height="4.9" fill="#8c8c8c"/>
<rect x="515.33" y="243.0" width="1.5" height="4.9" fill="#4e4e4e"/>
<rect x="517.67" y="244.0" width="1" height="7.8" fill="#b768ee"/>
<rect x="517.42" y="246.2" width="1.5" height="3.4" fill="#9000dc"/>
<rect x="519.75" y="248.8" width="1" height="3.0" fill="#b768ee"/>
<rect x="519.50" y="248.8" width="1.5" height="3.0" fill="#9000dc"/>
<rect x="521.83" y="251.8" width="1" height="12.6" fill="#b768ee"/>
<rect x="521.58" y="255.3" width="1.5" height="5.5" fill="#9000dc"/>
<rect x="523.92" y="262.5" width="1" height="3.9" fill="#b768ee"/>
<rect x="523.67" y="262.5" width="1.5" height="3.9" fill="#9000dc"/>
<rect x="526.00" y="267.3" width="1" height="9.7" fill="#b768ee"/>
<rect x="525.75" y="270.0" width="1.5" height="4.3" fill="#9000dc"/>
<rect x="528.08" y="266.4" width="1" height="9.6" fill="#8c8c8c"/>
<rect x="527.83" y="269.1" width="1.5" height="4.2" fill="#4e4e4e"/>
<rect x="530.17" y="241.0" width="1" height="20.5" fill="#8c8c8c"/>
<rect x="529.92" y="246.7" width="1.5" height="9.0" fill="#4e4e4e"/>
<rect x="532.25" y="242.0" width="1" height="6.8" fill="#8c8c8c"/>
<rect x="532.00" y="243.9" width="1.5" height="3.0" fill="#4e4e4e"/>
<rect x="534.33" y="241.0" width="1" height="5.9" fill="#8c8c8c"/>
<rect x="534.08" y="242.7" width="1.5" height="2.6" fill="#4e4e4e"/>
<rect x="536.42" y="240.0" width="1" height="5.0" fill="#b768ee"/>
<rect x="536.17" y="240.0" width="1.5" height="5.0" fill="#9000dc"/>
<rect x="538.50" y="244.0" width="1" height="10.7" fill="#b768ee"/>
<rect x="538.25" y="247.0" width="1.5" height="4.7" fill="#9000dc"/>
<rect x="540.58" y="246.0" width="1" height="5.8" fill="#b768ee"/>
<rect x="540.33" y="247.6" width="1.5" height="2.6" fill="#9000dc"/>
<rect x="542.67" y="241.0" width="1" height="19.5" fill="#b768ee"/>
<rect x="542.42" y="246.5" width="1.5" height="8.6" fill="#9000dc"/>
<rect x="544.75" y="244.0" width="1" height="18.5" fill="#8c8c8c"/>
<rect x="544.50" y="249.2" width="1.5" height="8.1" fill="#4e4e4e"/>
<rect x="546.83" y="243.0" width="1" height="9.7" fill="#b768ee"/>
<rect x="546.58" y="245.7" width="1.5" height="4.3" fill="#9000dc"/>
<rect x="548.92" y="234.2" width="1" height="25.3" fill="#b768ee"/>
<rect x="548.67" y="243.0" width="1.5" height="7.0" fill="#9000dc"/>
<rect x="551.00" y="245.0" width="1" height="5.8" fill="#8c8c8c"/>
<rect x="550.75" y="246.6" width="1.5" height="2.6" fill="#4e4e4e"/>
<rect x="553.08" y="242.5" width="1" height="5.5" fill="#8c8c8c"/>
<rect x="552.83" y="244.0" width="1.5" height="2.4" fill="#4e4e4e"/>
<rect x="555.17" y="246.0" width="1" height="9.0" fill="#b768ee"/>
<rect x="554.92" y="248.5" width="1.5" height="4.0" fill="#9000dc"/>
<rect x="557.25" y="248.0" width="1" height="7.0" fill="#8c8c8c"/>
<rect x="557.00" y="250.0" width="1.5" height="3.1" fill="#4e4e4e"/>
<rect x="559.33" y="252.5" width="1" height="5.2" fill="#b768ee"/>
<rect x="559.08" y="254.0" width="1.5" height="2.3" fill="#9000dc"/>
<rect x="561.42" y="248.0" width="1" height="7.6" fill="#8c8c8c"/>
<rect x="561.17" y="250.1" width="1.5" height="3.3" fill="#4e4e4e"/>
<rect x="563.50" y="230.6" width="1" height="16.8" fill="#8c8c8c"/>
<rect x="563.25" y="239.0" width="1.5" height="7.9" fill="#4e4e4e"/>
<rect x="565.58" y="238.3" width="1" height="8.1" fill="#b768ee"/>
<rect x="565.33" y="240.6" width="1.5" height="3.6" fill="#9000dc"/>
<rect x="567.67" y="238.3" width="1" height="15.3" fill="#b768ee"/>
<rect x="567.42" y="242.6" width="1.5" height="6.7" fill="#9000dc"/>
<rect x="569.75" y="252.0" width="1" height="4.6" fill="#b768ee"/>
<rect x="569.50" y="252.0" width="1.5" height="4.6" fill="#9000dc"/>
<rect x="571.83" y="256.6" width="1" height="16.4" fill="#8c8c8c"/>
<rect x="571.58" y="258.7" width="1.5" height="9.2" fill="#4e4e4e"/>
<rect x="573.92" y="254.6" width="1" height="8.2" fill="#8c8c8c"/>
<rect x="573.67" y="256.9" width="1.5" height="3.6" fill="#4e4e4e"/>
<rect x="576.00" y="200.0" width="1" height="48.6" fill="#8c8c8c"/>
<rect x="575.75" y="222.3" width="1.5" height="24.4" fill="#4e4e4e"/>
<rect x="578.08" y="221.4" width="1" height="3.9" fill="#8c8c8c"/>
<rect x="577.83" y="221.4" width="1.5" height="3.9" fill="#4e4e4e"/>
<rect x="580.17" y="222.3" width="1" height="10.7" fill="#b768ee"/>
<rect x="579.92" y="225.3" width="1.5" height="4.7" fill="#9000dc"/>
<rect x="582.25" y="215.5" width="1" height="7.8" fill="#8c8c8c"/>
<rect x="582.00" y="217.7" width="1.5" height="3.4" fill="#4e4e4e"/>
<rect x="584.33" y="208.7" width="1" height="17.5" fill="#b768ee"/>
<rect x="584.08" y="216.5" width="1.5" height="8.8" fill="#9000dc"/>
<rect x="586.42" y="226.2" width="1" height="4.8" fill="#b768ee"/>
<rect x="586.17" y="226.2" width="1.5" height="4.8" fill="#9000dc"/>
<rect x="588.50" y="212.6" width="1" height="9.7" fill="#8c8c8c"/>
<rect x="588.25" y="215.3" width="1.5" height="4.3" fill="#4e4e4e"/>
<rect x="590.58" y="203.8" width="1" height="10.7" fill="#8c8c8c"/>
<rect x="590.33" y="206.8" width="1.5" height="4.7" fill="#4e4e4e"/>
<rect x="592.67" y="193.0" width="1" height="22.5" fill="#b768ee"/>
<rect x="592.42" y="194.0" width="1.5" height="19.6" fill="#9000dc"/>
<rect x="594.75" y="205.8" width="1" height="5.8" fill="#8c8c8c"/>
<rect x="594.50" y="207.4" width="1.5" height="2.6" fill="#4e4e4e"/>
<rect x="596.83" y="198.0" width="1" height="7.8" fill="#8c8c8c"/>
<rect x="596.58" y="200.2" width="1.5" height="3.4" fill="#4e4e4e"/>
<rect x="598.92" y="173.6" width="1" height="23.4" fill="#8c8c8c"/>
<rect x="598.67" y="175.6" width="1.5" height="19.4" fill="#4e4e4e"/>
<rect x="601.00" y="173.6" width="1" height="9.8" fill="#8c8c8c"/>
<rect x="600.75" y="176.3" width="1.5" height="4.3" fill="#4e4e4e"/>
<rect x="603.08" y="163.0" width="1" height="12.6" fill="#8c8c8c"/>
<rect x="602.83" y="166.5" width="1.5" height="5.5" fill="#4e4e4e"/>
<rect x="605.17" y="204.0" width="1" height="38.0" fill="#b768ee"/>
<rect x="604.92" y="208.0" width="1.5" height="29.0" fill="#9000dc"/>
<rect x="607.25" y="227.2" width="1" height="10.8" fill="#8c8c8c"/>
<rect x="607.00" y="230.2" width="1.5" height="4.8" fill="#4e4e4e"/>
<rect x="609.33" y="230.0" width="1" height="14.0" fill="#b768ee"/>
<rect x="609.08" y="233.9" width="1.5" height="6.2" fill="#9000dc"/>
<rect x="611.42" y="236.0" width="1" height="12.0" fill="#b768ee"/>
<rect x="611.17" y="239.4" width="1.5" height="5.3" fill="#9000dc"/>
<rect x="613.50" y="243.0" width="1" height="19.5" fill="#b768ee"/>
<rect x="613.25" y="244.0" width="1.5" height="17.6" fill="#9000dc"/>
<rect x="615.58" y="259.6" width="1" height="5.9" fill="#8c8c8c"/>
<rect x="615.33" y="261.3" width="1.5" height="2.6" fill="#4e4e4e"/>
<rect x="617.67" y="262.5" width="1" height="8.8" fill="#b768ee"/>
<rect x="617.42" y="265.0" width="1.5" height="3.9" fill="#9000dc"/>
<rect x="619.75" y="260.6" width="1" height="7.8" fill="#8c8c8c"/>
<rect x="619.50" y="262.8" width="1.5" height="3.4" fill="#4e4e4e"/>
<rect x="621.83" y="254.7" width="1" height="7.8" fill="#b768ee"/>
<rect x="621.58" y="256.9" width="1.5" height="3.4" fill="#9000dc"/>
<rect x="623.92" y="258.6" width="1" height="3.0" fill="#8c8c8c"/>
<rect x="623.67" y="258.6" width="1.5" height="3.0" fill="#4e4e4e"/>
<rect x="626.00" y="247.0" width="1" height="14.6" fill="#8c8c8c"/>
<rect x="625.75" y="251.1" width="1.5" height="6.4" fill="#4e4e4e"/>
<rect x="628.08" y="247.0" width="1" height="3.0" fill="#b768ee"/>
<rect x="627.83" y="247.0" width="1.5" height="3.0" fill="#9000dc"/>
<rect x="630.17" y="242.0" width="1" height="8.8" fill="#8c8c8c"/>
<rect x="629.92" y="244.5" width="1.5" height="3.9" fill="#4e4e4e"/>
<rect x="632.25" y="242.0" width="1" height="9.8" fill="#8c8c8c"/>
<rect x="632.00" y="244.7" width="1.5" height="4.3" fill="#4e4e4e"/>
<rect x="634.33" y="242.0" width="1" height="9.8" fill="#8c8c8c"/>
<rect x="634.08" y="244.7" width="1.5" height="4.3" fill="#4e4e4e"/>
<rect x="636.42" y="243.0" width="1" height="8.8" fill="#b768ee"/>
<rect x="636.17" y="245.5" width="1.5" height="3.9" fill="#9000dc"/>
<rect x="638.50" y="224.5" width="1" height="17.5" fill="#8c8c8c"/>
<rect x="638.25" y="228.4" width="1.5" height="8.8" fill="#4e4e4e"/>
<rect x="640.58" y="224.5" width="1" height="5.9" fill="#8c8c8c"/>
<rect x="640.33" y="226.2" width="1.5" height="2.6" fill="#4e4e4e"/>
<rect x="642.67" y="220.6" width="1" height="7.8" fill="#8c8c8c"/>
<rect x="642.42" y="222.8" width="1.5" height="3.4" fill="#4e4e4e"/>
<rect x="644.75" y="219.7" width="1" height="7.8" fill="#b768ee"/>
<rect x="644.50" y="221.9" width="1.5" height="3.4" fill="#9000dc"/>
<rect x="646.83" y="177.5" width="1" height="38.3" fill="#8c8c8c"/>
<rect x="646.58" y="180.9" width="1.5" height="34.1" fill="#4e4e4e"/>
<rect x="648.92" y="176.7" width="1" height="7.1" fill="#8c8c8c"/>
<rect x="648.67" y="178.7" width="1.5" height="3.1" fill="#4e4e4e"/>
<rect x="651.00" y="179.6" width="1" height="23.8" fill="#b768ee"/>
<rect x="650.75" y="181.0" width="1.5" height="11.6" fill="#9000dc"/>
<rect x="653.08" y="188.0" width="1" height="12.5" fill="#8c8c8c"/>
<rect x="652.83" y="188.8" width="1.5" height="5.4" fill="#4e4e4e"/>
<rect x="655.17" y="190.9" width="1" height="12.9" fill="#b768ee"/>
<rect x="654.92" y="193.4" width="1.5" height="2.5" fill="#9000dc"/>
<rect x="657.25" y="192.0" width="1" height="18.0" fill="#b768ee"/>
<rect x="657.00" y="195.9" width="1.5" height="5.0" fill="#9000dc"/>
<rect x="659.33" y="92.4" width="1" height="46.8" fill="#8c8c8c"/>
<rect x="659.08" y="93.4" width="1.5" height="35.0" fill="#4e4e4e"/>
<rect x="661.42" y="73.0" width="1" height="21.4" fill="#8c8c8c"/>
<rect x="661.17" y="90.0" width="1.5" height="4.0" fill="#4e4e4e"/>
<rect x="663.50" y="98.2" width="1" height="32.2" fill="#b768ee"/>
<rect x="663.25" y="105.0" width="1.5" height="23.4" fill="#9000dc"/>
<rect x="665.58" y="124.5" width="1" height="5.9" fill="#b768ee"/>
<rect x="665.33" y="126.2" width="1.5" height="2.6" fill="#9000dc"/>
<rect x="667.67" y="126.5" width="1" height="17.5" fill="#8c8c8c"/>
<rect x="667.42" y="130.4" width="1.5" height="8.8" fill="#4e4e4e"/>
<rect x="669.75" y="131.4" width="1" height="4.8" fill="#b768ee"/>
<rect x="669.50" y="131.4" width="1.5" height="4.8" fill="#9000dc"/>
<rect x="671.83" y="116.8" width="1" height="25.2" fill="#8c8c8c"/>
<rect x="671.58" y="124.5" width="1.5" height="9.8" fill="#4e4e4e"/>
<rect x="673.92" y="119.7" width="1" height="8.7" fill="#b768ee"/>
<rect x="673.67" y="122.1" width="1.5" height="3.8" fill="#9000dc"/>
<rect x="676.00" y="125.5" width="1" height="12.7" fill="#8c8c8c"/>
<rect x="675.75" y="129.1" width="1.5" height="5.6" fill="#4e4e4e"/>
<rect x="678.08" y="129.4" width="1" height="10.7" fill="#b768ee"/>
<rect x="677.83" y="132.4" width="1.5" height="4.7" fill="#9000dc"/>
<rect x="680.17" y="137.2" width="1" height="10.8" fill="#b768ee"/>
<rect x="679.92" y="140.2" width="1.5" height="4.8" fill="#9000dc"/>
<rect x="682.25" y="134.3" width="1" height="12.7" fill="#8c8c8c"/>
<rect x="682.00" y="137.9" width="1.5" height="5.6" fill="#4e4e4e"/>
<rect x="684.33" y="142.0" width="1" height="13.7" fill="#8c8c8c"/>
<rect x="684.08" y="145.8" width="1.5" height="6.0" fill="#4e4e4e"/>
<rect x="686.42" y="142.0" width="1" height="8.0" fill="#8c8c8c"/>
<rect x="686.17" y="144.2" width="1.5" height="3.5" fill="#4e4e4e"/>
<rect x="688.50" y="153.8" width="1" height="11.7" fill="#b768ee"/>
<rect x="688.25" y="157.1" width="1.5" height="5.1" fill="#9000dc"/>
<rect x="690.58" y="158.6" width="1" height="6.9" fill="#8c8c8c"/>
<rect x="690.33" y="160.5" width="1.5" height="3.0" fill="#4e4e4e"/>
<rect x="692.67" y="126.5" width="1" height="30.2" fill="#8c8c8c"/>
<rect x="692.42" y="128.4" width="1.5" height="23.4" fill="#4e4e4e"/>
<rect x="694.75" y="125.5" width="1" height="21.5" fill="#b768ee"/>
<rect x="694.50" y="126.5" width="1.5" height="8.8" fill="#9000dc"/>
<rect x="696.83" y="130.4" width="1" height="13.6" fill="#b768ee"/>
<rect x="696.58" y="134.2" width="1.5" height="6.0" fill="#9000dc"/>
<rect x="698.92" y="133.3" width="1" height="12.7" fill="#8c8c8c"/>
<rect x="698.67" y="136.9" width="1.5" height="5.6" fill="#4e4e4e"/>
<rect x="701.00" y="131.4" width="1" height="9.7" fill="#8c8c8c"/>
<rect x="700.75" y="134.1" width="1.5" height="4.3" fill="#4e4e4e"/>
<rect x="703.08" y="130.0" width="1" height="10.0" fill="#8c8c8c"/>
<rect x="702.83" y="132.8" width="1.5" height="4.4" fill="#4e4e4e"/>
<rect x="705.17" y="130.5" width="1" height="18.0" fill="#8c8c8c"/>
<rect x="704.92" y="135.5" width="1.5" height="7.9" fill="#4e4e4e"/>
<rect x="707.25" y="133.0" width="1" height="5.0" fill="#8c8c8c"/>
<rect x="707.00" y="133.0" width="1.5" height="5.0" fill="#4e4e4e"/>
<rect x="709.33" y="113.6" width="1" height="16.6" fill="#8c8c8c"/>
<rect x="709.08" y="114.6" width="1.5" height="10.7" fill="#4e4e4e"/>
<rect x="711.42" y="113.6" width="1" height="9.8" fill="#b768ee"/>
<rect x="711.17" y="116.3" width="1.5" height="4.3" fill="#9000dc"/>
<rect x="713.50" y="113.6" width="1" height="8.8" fill="#8c8c8c"/>
<rect x="713.25" y="116.1" width="1.5" height="3.9" fill="#4e4e4e"/>
<rect x="715.58" y="111.7" width="1" height="3.9" fill="#b768ee"/>
<rect x="715.33" y="111.7" width="1.5" height="3.9" fill="#9000dc"/>
<rect x="717.67" y="108.8" width="1" height="10.7" fill="#8c8c8c"/>
<rect x="717.42" y="111.8" width="1.5" height="4.7" fill="#4e4e4e"/>
<rect x="719.75" y="116.6" width="1" height="10.7" fill="#b768ee"/>
<rect x="719.50" y="119.6" width="1.5" height="4.7" fill="#9000dc"/>
<rect x="721.83" y="124.4" width="1" height="15.6" fill="#8c8c8c"/>
<rect x="721.58" y="125.3" width="1.5" height="9.7" fill="#4e4e4e"/>
<rect x="723.92" y="124.4" width="1" height="7.7" fill="#b768ee"/>
<rect x="723.67" y="126.6" width="1.5" height="3.4" fill="#9000dc"/>
<rect x="726.00" y="136.0" width="1" height="11.7" fill="#b768ee"/>
<rect x="725.75" y="139.3" width="1.5" height="5.1" fill="#9000dc"/>
<rect x="728.08" y="146.8" width="1" height="17.5" fill="#b768ee"/>
<rect x="727.83" y="147.7" width="1.5" height="9.8" fill="#9000dc"/>
<rect x="730.17" y="144.8" width="1" height="15.6" fill="#8c8c8c"/>
<rect x="729.92" y="149.2" width="1.5" height="6.9" fill="#4e4e4e"/>
<rect x="732.25" y="141.9" width="1" height="4.9" fill="#8c8c8c"/>
<rect x="732.00" y="141.9" width="1.5" height="4.9" fill="#4e4e4e"/>
<rect x="734.33" y="136.0" width="1" height="14.7" fill="#b768ee"/>
<rect x="734.08" y="144.8" width="1.5" height="4.9" fill="#9000dc"/>
<rect x="736.42" y="149.7" width="1" height="7.8" fill="#b768ee"/>
<rect x="736.17" y="151.9" width="1.5" height="3.4" fill="#9000dc"/>
<rect x="738.50" y="149.7" width="1" height="45.8" fill="#b768ee"/>
<rect x="738.25" y="150.7" width="1.5" height="40.9" fill="#9000dc"/>
<rect x="740.58" y="156.5" width="1" height="36.0" fill="#8c8c8c"/>
<rect x="740.33" y="160.4" width="1.5" height="31.2" fill="#4e4e4e"/>
<rect x="742.67" y="157.5" width="1" height="3.9" fill="#8c8c8c"/>
<rect x="742.42" y="157.5" width="1.5" height="3.9" fill="#4e4e4e"/>
<rect x="744.75" y="152.6" width="1" height="9.7" fill="#8c8c8c"/>
<rect x="744.50" y="155.3" width="1.5" height="4.3" fill="#4e4e4e"/>
<rect x="746.83" y="150.7" width="1" height="7.7" fill="#8c8c8c"/>
<rect x="746.58" y="152.9" width="1.5" height="3.4" fill="#4e4e4e"/>
<rect x="748.92" y="149.7" width="1" height="4.8" fill="#8c8c8c"/>
<rect x="748.67" y="149.7" width="1.5" height="4.8" fill="#4e4e4e"/>
<rect x="751.00" y="127.3" width="1" height="17.5" fill="#8c8c8c"/>
<rect x="750.75" y="128.2" width="1.5" height="10.8" fill="#4e4e4e"/>
<rect x="753.08" y="130.2" width="1" height="3.8" fill="#b768ee"/>
<rect x="752.83" y="130.2" width="1.5" height="3.8" fill="#9000dc"/>
<rect x="755.17" y="128.2" width="1" height="6.8" fill="#8c8c8c"/>
<rect x="754.92" y="130.1" width="1.5" height="3.0" fill="#4e4e4e"/>
<rect x="757.25" y="128.8" width="1" height="3.9" fill="#b768ee"/>
<rect x="757.00" y="128.8" width="1.5" height="3.9" fill="#9000dc"/>
<rect x="759.33" y="121.5" width="1" height="10.7" fill="#8c8c8c"/>
<rect x="759.08" y="124.5" width="1.5" height="4.7" fill="#4e4e4e"/>
<rect x="761.42" y="118.7" width="1" height="9.7" fill="#8c8c8c"/>
<rect x="761.17" y="121.4" width="1.5" height="4.3" fill="#4e4e4e"/>
<rect x="763.50" y="126.5" width="1" height="10.7" fill="#b768ee"/>
<rect x="763.25" y="129.5" width="1.5" height="4.7" fill="#9000dc"/>
<rect x="765.58" y="139.2" width="1" height="16.5" fill="#b768ee"/>
<rect x="765.33" y="140.1" width="1.5" height="11.7" fill="#9000dc"/>
<rect x="767.67" y="147.0" width="1" height="10.7" fill="#8c8c8c"/>
<rect x="767.42" y="150.0" width="1.5" height="4.7" fill="#4e4e4e"/>
<rect x="769.75" y="137.2" width="1" height="12.7" fill="#8c8c8c"/>
<rect x="769.50" y="140.8" width="1.5" height="5.6" fill="#4e4e4e"/>
<rect x="771.83" y="135.3" width="1" height="3.9" fill="#b768ee"/>
<rect x="771.58" y="135.3" width="1.5" height="3.9" fill="#9000dc"/>
<rect x="773.92" y="130.4" width="1" height="11.6" fill="#b768ee"/>
<rect x="773.67" y="133.6" width="1.5" height="5.1" fill="#9000dc"/>
<rect x="776.00" y="136.2" width="1" height="3.9" fill="#8c8c8c"/>
<rect x="775.75" y="136.2" width="1.5" height="3.9" fill="#4e4e4e"/>
<rect x="778.08" y="126.5" width="1" height="9.7" fill="#8c8c8c"/>
<rect x="777.83" y="129.2" width="1.5" height="4.3" fill="#4e4e4e"/>
<rect x="780.17" y="128.4" width="1" height="12.7" fill="#b768ee"/>
<rect x="779.92" y="132.0" width="1.5" height="5.6" fill="#9000dc"/>
<rect x="782.25" y="131.4" width="1" height="20.4" fill="#8c8c8c"/>
<rect x="782.00" y="135.3" width="1.5" height="10.7" fill="#4e4e4e"/>
<rect x="784.33" y="135.3" width="1" height="2.9" fill="#8c8c8c"/>
<rect x="784.08" y="135.3" width="1.5" height="2.9" fill="#4e4e4e"/>
<rect x="786.42" y="130.4" width="1" height="9.7" fill="#b768ee"/>
<rect x="786.17" y="133.1" width="1.5" height="4.3" fill="#9000dc"/>
<rect x="788.50" y="134.3" width="1" height="6.8" fill="#b768ee"/>
<rect x="788.25" y="136.2" width="1.5" height="3.0" fill="#9000dc"/>
<rect x="790.58" y="130.4" width="1" height="9.7" fill="#8c8c8c"/>
<rect x="790.33" y="133.1" width="1.5" height="4.3" fill="#4e4e4e"/>
<rect x="792.67" y="114.8" width="1" height="7.8" fill="#8c8c8c"/>
<rect x="792.42" y="117.0" width="1.5" height="3.4" fill="#4e4e4e"/>
<rect x="794.75" y="95.3" width="1" height="26.3" fill="#8c8c8c"/>
<rect x="794.50" y="96.3" width="1.5" height="24.4" fill="#4e4e4e"/>
<rect x="796.83" y="95.3" width="1" height="6.8" fill="#b768ee"/>
<rect x="796.58" y="97.2" width="1.5" height="3.0" fill="#9000dc"/>
<rect x="798.92" y="83.6" width="1" height="10.8" fill="#8c8c8c"/>
<rect x="798.67" y="86.6" width="1.5" height="4.8" fill="#4e4e4e"/>
<rect x="801.00" y="84.6" width="1" height="7.8" fill="#b768ee"/>
<rect x="800.75" y="86.8" width="1.5" height="3.4" fill="#9000dc"/>
<rect x="803.08" y="95.3" width="1" height="14.7" fill="#b768ee"/>
<rect x="802.83" y="96.3" width="1.5" height="12.7" fill="#9000dc"/>
<rect x="805.17" y="94.4" width="1" height="13.6" fill="#8c8c8c"/>
<rect x="804.92" y="98.2" width="1.5" height="6.0" fill="#4e4e4e"/>
<rect x="807.25" y="73.0" width="1" height="28.2" fill="#8c8c8c"/>
<rect x="807.00" y="88.0" width="1.5" height="12.0" fill="#4e4e4e"/>
<rect x="809.33" y="96.3" width="1" height="3.9" fill="#8c8c8c"/>
<rect x="809.08" y="96.3" width="1.5" height="3.9" fill="#4e4e4e"/>
<rect x="811.42" y="106.0" width="1" height="15.0" fill="#b768ee"/>
<rect x="811.17" y="110.2" width="1.5" height="6.6" fill="#9000dc"/>
<rect x="813.50" y="115.5" width="1" height="9.5" fill="#b768ee"/>
<rect x="813.25" y="118.2" width="1.5" height="4.2" fill="#9000dc"/>
<rect x="815.58" y="117.7" width="1" height="8.8" fill="#8c8c8c"/>
<rect x="815.33" y="120.2" width="1.5" height="3.9" fill="#4e4e4e"/>
<rect x="817.67" y="114.8" width="1" height="11.7" fill="#b768ee"/>
<rect x="817.42" y="118.1" width="1.5" height="5.1" fill="#9000dc"/>
<rect x="819.75" y="111.9" width="1" height="9.7" fill="#8c8c8c"/>
<rect x="819.50" y="114.6" width="1.5" height="4.3" fill="#4e4e4e"/>
<rect x="821.83" y="111.9" width="1" height="2.9" fill="#8c8c8c"/>
<rect x="821.58" y="111.9" width="1.5" height="2.9" fill="#4e4e4e"/>
<rect x="823.92" y="101.2" width="1" height="11.7" fill="#b768ee"/>
<rect x="823.67" y="106.8" width="1.5" height="5.1" fill="#9000dc"/>
<rect x="826.00" y="110.0" width="1" height="2.9" fill="#b768ee"/>
<rect x="825.75" y="110.0" width="1.5" height="2.9" fill="#9000dc"/>
<rect x="828.08" y="115.8" width="1" height="10.7" fill="#b768ee"/>
<rect x="827.83" y="118.8" width="1.5" height="4.7" fill="#9000dc"/>
<rect x="830.17" y="118.7" width="1" height="5.8" fill="#b768ee"/>
<rect x="829.92" y="120.3" width="1.5" height="2.6" fill="#9000dc"/>
<rect x="832.25" y="120.7" width="1" height="7.7" fill="#8c8c8c"/>
<rect x="832.00" y="122.9" width="1.5" height="3.4" fill="#4e4e4e"/>
<rect x="834.33" y="122.6" width="1" height="3.9" fill="#b768ee"/>
<rect x="834.08" y="122.6" width="1.5" height="3.9" fill="#9000dc"/>
<rect x="836.42" y="123.6" width="1" height="3.9" fill="#8c8c8c"/>
<rect x="836.17" y="123.6" width="1.5" height="3.9" fill="#4e4e4e"/>
<rect x="838.50" y="123.6" width="1" height="6.8" fill="#b768ee"/>
<rect x="838.25" y="125.5" width="1.5" height="3.0" fill="#9000dc"/>
<rect x="840.58" y="124.5" width="1" height="3.9" fill="#b768ee"/>
<rect x="840.33" y="124.5" width="1.5" height="3.9" fill="#9000dc"/>
<rect x="842.67" y="126.5" width="1" height="2.9" fill="#8c8c8c"/>
<rect x="842.42" y="126.5" width="1.5" height="2.9" fill="#4e4e4e"/>
<rect x="844.75" y="127.5" width="1" height="2.9" fill="#8c8c8c"/>
<rect x="844.50" y="127.5" width="1.5" height="2.9" fill="#4e4e4e"/>
<rect x="846.83" y="131.4" width="1" height="3.9" fill="#b768ee"/>
<rect x="846.58" y="131.4" width="1.5" height="3.9" fill="#9000dc"/>
<rect x="848.92" y="132.3" width="1" height="3.0" fill="#b768ee"/>
<rect x="848.67" y="132.3" width="1.5" height="3.0" fill="#9000dc"/>
<rect x="851.00" y="122.6" width="1" height="17.5" fill="#8c8c8c"/>
<rect x="850.75" y="125.5" width="1.5" height="13.7" fill="#4e4e4e"/>
<rect x="853.08" y="118.7" width="1" height="8.8" fill="#8c8c8c"/>
<rect x="852.83" y="121.2" width="1.5" height="3.9" fill="#4e4e4e"/>
<rect x="855.17" y="113.8" width="1" height="20.5" fill="#8c8c8c"/>
<rect x="854.92" y="114.8" width="1.5" height="11.7" fill="#4e4e4e"/>
<rect x="857.25" y="110.9" width="1" height="5.9" fill="#8c8c8c"/>
<rect x="857.00" y="112.6" width="1.5" height="2.6" fill="#4e4e4e"/>
<rect x="859.33" y="93.4" width="1" height="28.2" fill="#8c8c8c"/>
<rect x="859.08" y="94.4" width="1.5" height="19.4" fill="#4e4e4e"/>
<rect x="861.42" y="81.7" width="1" height="11.7" fill="#8c8c8c"/>
<rect x="861.17" y="85.0" width="1.5" height="5.1" fill="#4e4e4e"/>
<rect x="863.50" y="87.5" width="1" height="13.7" fill="#b768ee"/>
<rect x="863.25" y="88.5" width="1.5" height="6.8" fill="#9000dc"/>
<rect x="865.58" y="90.5" width="1" height="6.8" fill="#8c8c8c"/>
<rect x="865.33" y="92.4" width="1.5" height="3.0" fill="#4e4e4e"/>
<rect x="867.67" y="34.5" width="1" height="36.7" fill="#8c8c8c"/>
<rect x="867.42" y="37.8" width="1.5" height="33.2" fill="#4e4e4e"/>
<rect x="869.75" y="33.0" width="1" height="8.2" fill="#b768ee"/>
<rect x="869.50" y="37.8" width="1.5" height="3.4" fill="#9000dc"/>
<rect x="871.83" y="40.0" width="1" height="20.6" fill="#b768ee"/>
<rect x="871.58" y="41.0" width="1.5" height="19.6" fill="#9000dc"/>
<rect x="873.92" y="52.9" width="1" height="10.5" fill="#8c8c8c"/>
<rect x="873.67" y="53.0" width="1.5" height="3.0" fill="#4e4e4e"/>
<line x1="92.6" y1="490.6" x2="968.2" y2="126.3" stroke="#ff0000" stroke-width="2.5" stroke-linecap="round"/>
<line x1="617.4" y1="272.3" x2="947.2" y2="89.3" stroke="#ff0000" stroke-width="2.5" stroke-linecap="round"/>
<line x1="0.9" y1="1.4" x2="978.7" y2="1.4" stroke="#808080" stroke-width="1.2"/>
<line x1="1.5" y1="0.8" x2="1.5" y2="529.1" stroke="#808080" stroke-width="1.2"/>
<line x1="0.9" y1="528.4" x2="978.7" y2="528.4" stroke="#808080" stroke-width="1.3"/>
<line x1="977.85" y1="0.8" x2="977.85" y2="529.1" stroke="#999999" stroke-width="1.8"/>
<line x1="978" y1="510.2" x2="980" y2="510.2" stroke="#555555" stroke-width="0.9"/>
<text transform="translate(981,512.2) scale(0.8,1)" font-size="5.9" fill="#262626" stroke="#262626" stroke-width="0.12">8.28</text>
<line x1="978" y1="493.3" x2="980" y2="493.3" stroke="#555555" stroke-width="0.9"/>
<text transform="translate(981,495.3) scale(0.8,1)" font-size="5.9" fill="#262626" stroke="#262626" stroke-width="0.12">8.50</text>
<line x1="978" y1="476.3" x2="980" y2="476.3" stroke="#555555" stroke-width="0.9"/>
<text transform="translate(981,478.3) scale(0.8,1)" font-size="5.9" fill="#262626" stroke="#262626" stroke-width="0.12">8.72</text>
<line x1="978" y1="459.4" x2="980" y2="459.4" stroke="#555555" stroke-width="0.9"/>
<text transform="translate(981,461.4) scale(0.8,1)" font-size="5.9" fill="#262626" stroke="#262626" stroke-width="0.12">8.94</text>
<line x1="978" y1="442.4" x2="980" y2="442.4" stroke="#555555" stroke-width="0.9"/>
<text transform="translate(981,444.4) scale(0.8,1)" font-size="5.9" fill="#262626" stroke="#262626" stroke-width="0.12">9.16</text>
<line x1="978" y1="425.5" x2="980" y2="425.5" stroke="#555555" stroke-width="0.9"/>
<text transform="translate(981,427.5) scale(0.8,1)" font-size="5.9" fill="#262626" stroke="#262626" stroke-width="0.12">9.38</text>
<line x1="978" y1="408.5" x2="980" y2="408.5" stroke="#555555" stroke-width="0.9"/>
<text transform="translate(981,410.5) scale(0.8,1)" font-size="5.9" fill="#262626" stroke="#262626" stroke-width="0.12">9.60</text>
<line x1="978" y1="391.6" x2="980" y2="391.6" stroke="#555555" stroke-width="0.9"/>
<text transform="translate(981,393.6) scale(0.8,1)" font-size="5.9" fill="#262626" stroke="#262626" stroke-width="0.12">9.82</text>
<line x1="978" y1="374.7" x2="980" y2="374.7" stroke="#555555" stroke-width="0.9"/>
<text transform="translate(981,376.7) scale(0.8,1)" font-size="5.9" fill="#262626" stroke="#262626" stroke-width="0.12">10.04</text>
<line x1="978" y1="357.7" x2="980" y2="357.7" stroke="#555555" stroke-width="0.9"/>
<text transform="translate(981,359.7) scale(0.8,1)" font-size="5.9" fill="#262626" stroke="#262626" stroke-width="0.12">10.26</text>
<line x1="978" y1="340.8" x2="980" y2="340.8" stroke="#555555" stroke-width="0.9"/>
<text transform="translate(981,342.8) scale(0.8,1)" font-size="5.9" fill="#262626" stroke="#262626" stroke-width="0.12">10.48</text>
<line x1="978" y1="323.8" x2="980" y2="323.8" stroke="#555555" stroke-width="0.9"/>
<text transform="translate(981,325.8) scale(0.8,1)" font-size="5.9" fill="#262626" stroke="#262626" stroke-width="0.12">10.70</text>
<line x1="978" y1="306.9" x2="980" y2="306.9" stroke="#555555" stroke-width="0.9"/>
<text transform="translate(981,308.9) scale(0.8,1)" font-size="5.9" fill="#262626" stroke="#262626" stroke-width="0.12">10.92</text>
<line x1="978" y1="289.9" x2="980" y2="289.9" stroke="#555555" stroke-width="0.9"/>
<text transform="translate(981,291.9) scale(0.8,1)" font-size="5.9" fill="#262626" stroke="#262626" stroke-width="0.12">11.14</text>
<line x1="978" y1="273.0" x2="980" y2="273.0" stroke="#555555" stroke-width="0.9"/>
<text transform="translate(981,275.0) scale(0.8,1)" font-size="5.9" fill="#262626" stroke="#262626" stroke-width="0.12">11.36</text>
<line x1="978" y1="256.1" x2="980" y2="256.1" stroke="#555555" stroke-width="0.9"/>
<text transform="translate(981,258.1) scale(0.8,1)" font-size="5.9" fill="#262626" stroke="#262626" stroke-width="0.12">11.58</text>
<line x1="978" y1="239.1" x2="980" y2="239.1" stroke="#555555" stroke-width="0.9"/>
<text transform="translate(981,241.1) scale(0.8,1)" font-size="5.9" fill="#262626" stroke="#262626" stroke-width="0.12">11.80</text>
<line x1="978" y1="222.2" x2="980" y2="222.2" stroke="#555555" stroke-width="0.9"/>
<text transform="translate(981,224.2) scale(0.8,1)" font-size="5.9" fill="#262626" stroke="#262626" stroke-width="0.12">12.02</text>
<line x1="978" y1="205.2" x2="980" y2="205.2" stroke="#555555" stroke-width="0.9"/>
<text transform="translate(981,207.2) scale(0.8,1)" font-size="5.9" fill="#262626" stroke="#262626" stroke-width="0.12">12.24</text>
<line x1="978" y1="188.3" x2="980" y2="188.3" stroke="#555555" stroke-width="0.9"/>
<text transform="translate(981,190.3) scale(0.8,1)" font-size="5.9" fill="#262626" stroke="#262626" stroke-width="0.12">12.46</text>
<line x1="978" y1="171.4" x2="980" y2="171.4" stroke="#555555" stroke-width="0.9"/>
<text transform="translate(981,173.4) scale(0.8,1)" font-size="5.9" fill="#262626" stroke="#262626" stroke-width="0.12">12.68</text>
<line x1="978" y1="154.4" x2="980" y2="154.4" stroke="#555555" stroke-width="0.9"/>
<text transform="translate(981,156.4) scale(0.8,1)" font-size="5.9" fill="#262626" stroke="#262626" stroke-width="0.12">12.90</text>
<line x1="978" y1="137.5" x2="980" y2="137.5" stroke="#555555" stroke-width="0.9"/>
<text transform="translate(981,139.5) scale(0.8,1)" font-size="5.9" fill="#262626" stroke="#262626" stroke-width="0.12">13.12</text>
<line x1="978" y1="120.5" x2="980" y2="120.5" stroke="#555555" stroke-width="0.9"/>
<text transform="translate(981,122.5) scale(0.8,1)" font-size="5.9" fill="#262626" stroke="#262626" stroke-width="0.12">13.34</text>
<line x1="978" y1="103.6" x2="980" y2="103.6" stroke="#555555" stroke-width="0.9"/>
<text transform="translate(981,105.6) scale(0.8,1)" font-size="5.9" fill="#262626" stroke="#262626" stroke-width="0.12">13.56</text>
<line x1="978" y1="86.6" x2="980" y2="86.6" stroke="#555555" stroke-width="0.9"/>
<text transform="translate(981,88.6) scale(0.8,1)" font-size="5.9" fill="#262626" stroke="#262626" stroke-width="0.12">13.78</text>
<line x1="978" y1="69.7" x2="980" y2="69.7" stroke="#555555" stroke-width="0.9"/>
<text transform="translate(981,71.7) scale(0.8,1)" font-size="5.9" fill="#262626" stroke="#262626" stroke-width="0.12">14.00</text>
<line x1="978" y1="52.8" x2="980" y2="52.8" stroke="#555555" stroke-width="0.9"/>
<line x1="978" y1="35.8" x2="980" y2="35.8" stroke="#555555" stroke-width="0.9"/>
<text transform="translate(981,37.8) scale(0.8,1)" font-size="5.9" fill="#262626" stroke="#262626" stroke-width="0.12">14.44</text>
<line x1="978" y1="18.9" x2="980" y2="18.9" stroke="#555555" stroke-width="0.9"/>
<text transform="translate(981,20.9) scale(0.8,1)" font-size="5.9" fill="#262626" stroke="#262626" stroke-width="0.12">14.66</text>
<line x1="978" y1="1.9" x2="980" y2="1.9" stroke="#555555" stroke-width="0.9"/>
<text transform="translate(981,3.9) scale(0.8,1)" font-size="5.9" fill="#262626" stroke="#262626" stroke-width="0.12">14.88</text>
<path d="M978.5,53.8 L980,51 L994.2,51 L994.2,56.8 L980,56.8 Z" fill="#000"/>
<text transform="translate(980.8,56) scale(0.8,1)" font-size="5.9" fill="#ffffff" stroke="#ffffff" stroke-width="0.1">14.21</text>
<line x1="1.5" y1="528" x2="1.5" y2="531" stroke="#7a7a7a" stroke-width="1"/>
<text transform="translate(1.2,535.2) scale(0.8,1)" font-size="5.9" fill="#262626" stroke="#262626" stroke-width="0.12">7 Mar 2025</text>
<line x1="34.8" y1="528" x2="34.8" y2="531" stroke="#7a7a7a" stroke-width="1"/>
<text transform="translate(34.5,535.2) scale(0.8,1)" font-size="5.9" fill="#262626" stroke="#262626" stroke-width="0.12">19 Mar 20:00</text>
<line x1="68.2" y1="528" x2="68.2" y2="531" stroke="#7a7a7a" stroke-width="1"/>
<text transform="translate(67.9,535.2) scale(0.8,1)" font-size="5.9" fill="#262626" stroke="#262626" stroke-width="0.12">31 Mar 20:00</text>
<line x1="101.5" y1="528" x2="101.5" y2="531" stroke="#7a7a7a" stroke-width="1"/>
<text transform="translate(101.2,535.2) scale(0.8,1)" font-size="5.9" fill="#262626" stroke="#262626" stroke-width="0.12">10 Apr 20:00</text>
<line x1="134.8" y1="528" x2="134.8" y2="531" stroke="#7a7a7a" stroke-width="1"/>
<text transform="translate(134.5,535.2) scale(0.8,1)" font-size="5.9" fill="#262626" stroke="#262626" stroke-width="0.12">23 Apr 20:00</text>
<line x1="168.2" y1="528" x2="168.2" y2="531" stroke="#7a7a7a" stroke-width="1"/>
<text transform="translate(167.9,535.2) scale(0.8,1)" font-size="5.9" fill="#262626" stroke="#262626" stroke-width="0.12">5 May 20:00</text>
<line x1="201.5" y1="528" x2="201.5" y2="531" stroke="#7a7a7a" stroke-width="1"/>
<text transform="translate(201.2,535.2) scale(0.8,1)" font-size="5.9" fill="#262626" stroke="#262626" stroke-width="0.12">15 May 20:00</text>
<line x1="234.8" y1="528" x2="234.8" y2="531" stroke="#7a7a7a" stroke-width="1"/>
<text transform="translate(234.5,535.2) scale(0.8,1)" font-size="5.9" fill="#262626" stroke="#262626" stroke-width="0.12">28 May 20:00</text>
<line x1="268.2" y1="528" x2="268.2" y2="531" stroke="#7a7a7a" stroke-width="1"/>
<text transform="translate(267.9,535.2) scale(0.8,1)" font-size="5.9" fill="#262626" stroke="#262626" stroke-width="0.12">9 Jun 20:00</text>
<line x1="301.5" y1="528" x2="301.5" y2="531" stroke="#7a7a7a" stroke-width="1"/>
<text transform="translate(301.2,535.2) scale(0.8,1)" font-size="5.9" fill="#262626" stroke="#262626" stroke-width="0.12">20 Jun 20:00</text>
<line x1="334.8" y1="528" x2="334.8" y2="531" stroke="#7a7a7a" stroke-width="1"/>
<text transform="translate(334.5,535.2) scale(0.8,1)" font-size="5.9" fill="#262626" stroke="#262626" stroke-width="0.12">2 Jul 20:00</text>
<line x1="368.2" y1="528" x2="368.2" y2="531" stroke="#7a7a7a" stroke-width="1"/>
<text transform="translate(367.9,535.2) scale(0.8,1)" font-size="5.9" fill="#262626" stroke="#262626" stroke-width="0.12">16 Jul 16:00</text>
<line x1="401.5" y1="528" x2="401.5" y2="531" stroke="#7a7a7a" stroke-width="1"/>
<text transform="translate(401.2,535.2) scale(0.8,1)" font-size="5.9" fill="#262626" stroke="#262626" stroke-width="0.12">28 Jul 16:00</text>
<line x1="434.8" y1="528" x2="434.8" y2="531" stroke="#7a7a7a" stroke-width="1"/>
<text transform="translate(434.5,535.2) scale(0.8,1)" font-size="5.9" fill="#262626" stroke="#262626" stroke-width="0.12">7 Aug 16:00</text>
<line x1="468.2" y1="528" x2="468.2" y2="531" stroke="#7a7a7a" stroke-width="1"/>
<text transform="translate(467.9,535.2) scale(0.8,1)" font-size="5.9" fill="#262626" stroke="#262626" stroke-width="0.12">20 Aug 16:00</text>
<line x1="501.5" y1="528" x2="501.5" y2="531" stroke="#7a7a7a" stroke-width="1"/>
<text transform="translate(501.2,535.2) scale(0.8,1)" font-size="5.9" fill="#262626" stroke="#262626" stroke-width="0.12">2 Sep 16:00</text>
<line x1="534.8" y1="528" x2="534.8" y2="531" stroke="#7a7a7a" stroke-width="1"/>
<text transform="translate(534.5,535.2) scale(0.8,1)" font-size="5.9" fill="#262626" stroke="#262626" stroke-width="0.12">12 Sep 16:00</text>
<line x1="568.2" y1="528" x2="568.2" y2="531" stroke="#7a7a7a" stroke-width="1"/>
<text transform="translate(567.9,535.2) scale(0.8,1)" font-size="5.9" fill="#262626" stroke="#262626" stroke-width="0.12">24 Sep 16:00</text>
<line x1="601.5" y1="528" x2="601.5" y2="531" stroke="#7a7a7a" stroke-width="1"/>
<text transform="translate(601.2,535.2) scale(0.8,1)" font-size="5.9" fill="#262626" stroke="#262626" stroke-width="0.12">6 Oct 16:00</text>
<line x1="634.8" y1="528" x2="634.8" y2="531" stroke="#7a7a7a" stroke-width="1"/>
<text transform="translate(634.5,535.2) scale(0.8,1)" font-size="5.9" fill="#262626" stroke="#262626" stroke-width="0.12">16 Oct 16:00</text>
<line x1="668.2" y1="528" x2="668.2" y2="531" stroke="#7a7a7a" stroke-width="1"/>
<text transform="translate(667.9,535.2) scale(0.8,1)" font-size="5.9" fill="#262626" stroke="#262626" stroke-width="0.12">28 Oct 16:00</text>
<line x1="701.5" y1="528" x2="701.5" y2="531" stroke="#7a7a7a" stroke-width="1"/>
<text transform="translate(701.2,535.2) scale(0.8,1)" font-size="5.9" fill="#262626" stroke="#262626" stroke-width="0.12">7 Nov 16:00</text>
<line x1="734.8" y1="528" x2="734.8" y2="531" stroke="#7a7a7a" stroke-width="1"/>
<text transform="translate(734.5,535.2) scale(0.8,1)" font-size="5.9" fill="#262626" stroke="#262626" stroke-width="0.12">19 Nov 16:00</text>
<line x1="768.2" y1="528" x2="768.2" y2="531" stroke="#7a7a7a" stroke-width="1"/>
<text transform="translate(767.9,535.2) scale(0.8,1)" font-size="5.9" fill="#262626" stroke="#262626" stroke-width="0.12">2 Dec 20:00</text>
<line x1="801.5" y1="528" x2="801.5" y2="531" stroke="#7a7a7a" stroke-width="1"/>
<text transform="translate(801.2,535.2) scale(0.8,1)" font-size="5.9" fill="#262626" stroke="#262626" stroke-width="0.12">12 Dec 20:00</text>
<line x1="834.8" y1="528" x2="834.8" y2="531" stroke="#7a7a7a" stroke-width="1"/>
<text transform="translate(834.5,535.2) scale(0.8,1)" font-size="5.9" fill="#262626" stroke="#262626" stroke-width="0.12">26 Dec 16:00</text>
<line x1="868.2" y1="528" x2="868.2" y2="531" stroke="#7a7a7a" stroke-width="1"/>
<text transform="translate(867.9,535.2) scale(0.8,1)" font-size="5.9" fill="#262626" stroke="#262626" stroke-width="0.12">8 Jan 16:00</text>
<text transform="translate(3,7.2) scale(0.885,1)" font-size="5.7" fill="#262626" stroke="#262626" stroke-width="0.12">F, H4:&#160; Ford Motor Company</text>
</svg></body></html>
